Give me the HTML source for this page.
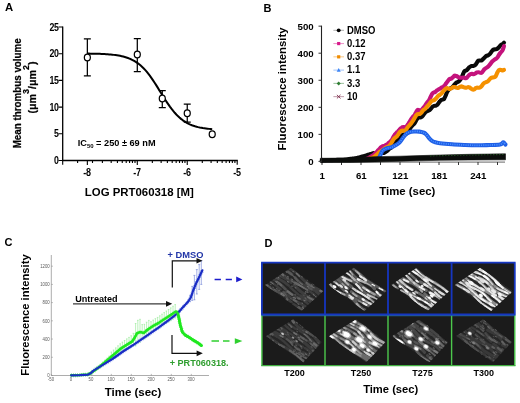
<!DOCTYPE html>
<html lang="en"><head><meta charset="utf-8"><title>Figure</title>
<style>
html,body{margin:0;padding:0;background:#fff;}
body{width:520px;height:403px;overflow:hidden;font-family:"Liberation Sans",sans-serif;}
svg{display:block;filter:blur(0.3px);}
</style></head><body>
<svg width="520" height="403" viewBox="0 0 520 403" font-family="Liberation Sans, sans-serif">
<g id="panelA">
<text x="5" y="11.3" font-size="11.3" font-weight="bold" text-anchor="start" fill="#000" >A</text>
<path d="M62.7 26.4V160.5H237.8" fill="none" stroke="#000" stroke-width="1.3"/>
<path d="M58.5 160.50H62.7M58.5 133.80H62.7M58.5 107.10H62.7M58.5 80.40H62.7M58.5 53.70H62.7M58.5 27.00H62.7M62.7 160.5v4.3M77.6 160.5v2.6M92.5 160.5v2.4M87.35 160.5v4.6M102.39 160.5v2.6M111.18 160.5v2.6M117.42 160.5v2.6M122.26 160.5v2.6M126.22 160.5v2.6M129.56 160.5v2.6M132.46 160.5v2.6M135.01 160.5v2.6M137.30 160.5v4.6M152.34 160.5v2.6M161.13 160.5v2.6M167.37 160.5v2.6M172.21 160.5v2.6M176.17 160.5v2.6M179.51 160.5v2.6M182.41 160.5v2.6M184.96 160.5v2.6M187.25 160.5v4.6M202.29 160.5v2.6M211.08 160.5v2.6M217.32 160.5v2.6M222.16 160.5v2.6M226.12 160.5v2.6M229.46 160.5v2.6M232.36 160.5v2.6M234.91 160.5v2.6M237.20 160.5v4.3" fill="none" stroke="#000" stroke-width="1.1"/>
<text transform="translate(58.5,164.0) scale(0.88,1)" font-size="10" font-weight="bold" text-anchor="end" fill="#000" letter-spacing="-0.4">0</text>
<text transform="translate(58.5,137.3) scale(0.88,1)" font-size="10" font-weight="bold" text-anchor="end" fill="#000" letter-spacing="-0.4">5</text>
<text transform="translate(58.5,110.6) scale(0.88,1)" font-size="10" font-weight="bold" text-anchor="end" fill="#000" letter-spacing="-0.4">10</text>
<text transform="translate(58.5,83.9) scale(0.88,1)" font-size="10" font-weight="bold" text-anchor="end" fill="#000" letter-spacing="-0.4">15</text>
<text transform="translate(58.5,57.2) scale(0.88,1)" font-size="10" font-weight="bold" text-anchor="end" fill="#000" letter-spacing="-0.4">20</text>
<text transform="translate(58.5,30.5) scale(0.88,1)" font-size="10" font-weight="bold" text-anchor="end" fill="#000" letter-spacing="-0.4">25</text>
<text transform="translate(87.05,176.1) scale(0.9,1)" font-size="10" font-weight="bold" text-anchor="middle" fill="#000" letter-spacing="-0.3">-8</text>
<text transform="translate(137.0,176.1) scale(0.9,1)" font-size="10" font-weight="bold" text-anchor="middle" fill="#000" letter-spacing="-0.3">-7</text>
<text transform="translate(186.95,176.1) scale(0.9,1)" font-size="10" font-weight="bold" text-anchor="middle" fill="#000" letter-spacing="-0.3">-6</text>
<text transform="translate(236.9,176.1) scale(0.9,1)" font-size="10" font-weight="bold" text-anchor="middle" fill="#000" letter-spacing="-0.3">-5</text>
<path d="M87.35 53.59 L88.91 53.61 L90.47 53.63 L92.03 53.66 L93.59 53.69 L95.15 53.73 L96.72 53.77 L98.28 53.82 L99.84 53.87 L101.40 53.94 L102.96 54.01 L104.52 54.09 L106.08 54.18 L107.64 54.29 L109.20 54.40 L110.76 54.54 L112.32 54.70 L113.89 54.87 L115.45 55.07 L117.01 55.30 L118.57 55.56 L120.13 55.85 L121.69 56.18 L123.25 56.56 L124.81 56.98 L126.37 57.46 L127.93 58.00 L129.50 58.61 L131.06 59.29 L132.62 60.05 L134.18 60.90 L135.74 61.85 L137.30 62.90 L138.86 64.06 L140.42 65.33 L141.98 66.74 L143.54 68.26 L145.10 69.92 L146.67 71.71 L148.23 73.62 L149.79 75.66 L151.35 77.82 L152.91 80.09 L154.47 82.44 L156.03 84.88 L157.59 87.37 L159.15 89.90 L160.71 92.45 L162.28 94.99 L163.84 97.51 L165.40 99.97 L166.96 102.36 L168.52 104.67 L170.08 106.88 L171.64 108.97 L173.20 110.94 L174.76 112.79 L176.32 114.50 L177.88 116.08 L179.45 117.54 L181.01 118.87 L182.57 120.08 L184.13 121.18 L185.69 122.17 L187.25 123.06 L188.81 123.86 L190.37 124.58 L191.93 125.22 L193.49 125.78 L195.05 126.29 L196.62 126.74 L198.18 127.13 L199.74 127.48 L201.30 127.79 L202.86 128.07 L204.42 128.31 L205.98 128.52 L207.54 128.71 L209.10 128.87 L210.66 129.01 L212.22 129.14" fill="none" stroke="#000" stroke-width="2" stroke-linejoin="round"/>
<path d="M87.35 38.8V75.8M83.85 38.8h7M83.85 75.8h7" fill="none" stroke="#000" stroke-width="1.25"/>
<ellipse cx="87.35" cy="57.4" rx="3.0" ry="3.4" fill="#fff" stroke="#000" stroke-width="1.25"/>
<path d="M137.3 38.5V71.6M133.80 38.5h7M133.80 71.6h7" fill="none" stroke="#000" stroke-width="1.25"/>
<ellipse cx="137.30" cy="54.6" rx="3.0" ry="3.4" fill="#fff" stroke="#000" stroke-width="1.25"/>
<path d="M162.275 90.5V107.5M158.78 90.5h7M158.78 107.5h7" fill="none" stroke="#000" stroke-width="1.25"/>
<ellipse cx="162.28" cy="98.5" rx="3.0" ry="3.4" fill="#fff" stroke="#000" stroke-width="1.25"/>
<path d="M187.25 104V122M183.75 104h7M183.75 122h7" fill="none" stroke="#000" stroke-width="1.25"/>
<ellipse cx="187.25" cy="113.3" rx="3.0" ry="3.4" fill="#fff" stroke="#000" stroke-width="1.25"/>
<ellipse cx="212.22" cy="134.2" rx="3.0" ry="3.4" fill="#fff" stroke="#000" stroke-width="1.25"/>
<text transform="translate(21.3,93.3) rotate(-90) scale(0.893,1)" font-size="11" font-weight="bold" text-anchor="middle" fill="#000" stroke="#000" stroke-width="0.25">Mean thrombus volume</text>
<text transform="translate(35.8,87.5) rotate(-90) scale(1.04,1)" font-size="10.3" font-weight="bold" text-anchor="middle" fill="#000" stroke="#000" stroke-width="0.2">(&#956;m<tspan dy="-6.4" font-size="8.6">3</tspan><tspan dy="6.4">/&#956;m</tspan><tspan dy="-6.4" font-size="8.6">2</tspan><tspan dy="6.4">)</tspan></text>
<text x="139.3" y="195.5" font-size="11.4" font-weight="bold" text-anchor="middle" fill="#000" >LOG PRT060318 [M]</text>
<text x="77.7" y="145.8" font-size="9.2" font-weight="bold" text-anchor="start" fill="#000" >IC<tspan dy="2" font-size="6">50</tspan><tspan dy="-2"> = 250 &#177; 69 nM</tspan></text>
</g>
<g id="panelB">
<text x="263.5" y="12.2" font-size="11" font-weight="bold" text-anchor="start" fill="#000" >B</text>
<path d="M322.0 160.5C322.3 160.5 323.0 160.5 323.5 160.4C324.0 160.4 324.6 160.4 325.1 160.4C325.6 160.4 326.1 160.3 326.6 160.3C327.1 160.3 327.6 160.3 328.1 160.3C328.6 160.2 329.2 160.2 329.7 160.2C330.2 160.2 330.7 160.2 331.2 160.1C331.7 160.1 332.2 160.1 332.7 160.1C333.2 160.1 333.8 160.0 334.3 160.0C334.8 160.0 335.3 160.0 335.8 160.0C336.3 159.9 336.8 159.9 337.3 159.9C337.8 159.9 338.4 159.9 338.9 159.8C339.4 159.8 339.9 159.8 340.4 159.8C340.9 159.8 341.4 159.7 341.9 159.7C342.4 159.7 343.0 159.7 343.5 159.7C344.0 159.6 344.5 159.6 345.0 159.6C345.5 159.6 346.0 159.5 346.5 159.4C347.0 159.3 347.5 159.3 348.0 159.2C348.5 159.1 349.0 159.1 349.5 159.0C350.0 158.9 350.5 158.9 351.0 158.8C351.5 158.7 352.0 158.7 352.5 158.6C353.0 158.5 353.5 158.5 354.0 158.4C354.5 158.3 355.0 158.3 355.5 158.2C356.0 158.1 356.5 158.1 357.0 158.0C357.5 157.9 358.0 157.7 358.5 157.6C359.0 157.4 359.5 157.3 360.0 157.2C360.5 157.0 361.0 156.9 361.5 156.8C362.0 156.6 362.5 156.5 363.0 156.3C363.5 156.2 364.0 156.1 364.5 155.9C365.0 155.8 365.5 155.6 366.0 155.5C366.5 155.4 366.9 155.2 367.4 155.0C367.9 154.9 368.3 154.7 368.8 154.6C369.3 154.4 369.7 154.3 370.2 154.1C370.7 154.0 371.1 153.8 371.6 153.7C372.1 153.5 372.5 153.3 373.0 153.2C373.5 153.1 374.0 153.2 374.5 153.3C375.0 153.3 375.5 153.3 376.0 153.4C376.5 153.4 377.0 153.5 377.5 153.5C378.0 153.5 378.5 153.6 379.0 153.5C379.5 153.4 380.1 153.0 380.7 152.9C381.2 152.8 381.8 152.8 382.3 152.8C382.9 152.8 383.4 153.0 384.0 152.9C384.6 152.8 385.2 152.3 385.8 151.9C386.4 151.5 387.1 151.0 387.6 150.5C388.2 150.0 388.6 149.3 389.1 148.9C389.6 148.5 390.1 148.4 390.6 148.1C391.1 147.7 391.6 147.4 392.1 146.8C392.6 146.2 393.1 145.4 393.6 144.6C394.1 143.8 394.6 142.8 395.1 142.0C395.6 141.3 396.1 140.8 396.6 140.3C397.0 139.9 397.5 139.7 398.0 139.3C398.5 138.9 399.0 138.4 399.5 137.9C400.0 137.4 400.5 137.0 401.0 136.5C401.5 136.1 402.0 135.4 402.5 135.0C403.0 134.6 403.5 134.4 404.0 134.3C404.5 134.2 405.0 134.4 405.5 134.3C406.0 134.1 406.4 133.8 406.8 133.4C407.2 133.0 407.7 132.4 408.1 131.8C408.5 131.2 408.9 130.7 409.4 129.8C409.9 129.0 410.6 127.6 411.2 126.7C411.8 125.9 412.5 125.3 413.0 124.8C413.5 124.2 414.0 124.0 414.5 123.4C415.0 122.7 415.4 121.8 415.9 121.0C416.4 120.2 416.9 119.0 417.4 118.4C417.9 117.8 418.3 117.7 418.7 117.5C419.1 117.4 419.6 117.4 420.0 117.3C420.4 117.3 420.8 117.5 421.3 117.1C421.8 116.8 422.5 116.0 423.1 115.3C423.7 114.6 424.3 113.5 424.9 112.8C425.5 112.2 425.9 111.8 426.4 111.4C427.0 111.1 427.5 111.0 428.0 110.8C428.5 110.6 429.0 110.5 429.4 110.2C429.9 109.9 430.4 109.3 430.9 108.7C431.3 108.2 431.8 107.4 432.3 107.0C432.8 106.5 433.5 106.1 434.1 105.9C434.8 105.7 435.5 105.9 436.0 105.7C436.5 105.5 436.8 105.2 437.3 104.8C437.7 104.4 438.1 103.7 438.5 103.2C439.0 102.6 439.3 102.0 439.8 101.5C440.3 100.9 440.8 100.4 441.3 100.1C441.8 99.7 442.2 99.7 442.7 99.5C443.2 99.2 443.7 99.4 444.2 98.7C444.7 98.0 445.2 96.6 445.7 95.5C446.2 94.3 446.7 92.8 447.2 91.8C447.7 90.8 448.3 90.2 448.9 89.6C449.4 89.0 450.0 88.6 450.5 88.3C451.0 88.0 451.4 88.0 451.9 87.7C452.3 87.3 452.8 86.8 453.2 86.2C453.7 85.7 454.1 85.0 454.6 84.4C455.1 83.9 455.6 83.2 456.1 82.8C456.6 82.3 457.1 82.2 457.6 82.0C458.1 81.7 458.6 81.5 459.1 81.1C459.6 80.6 460.1 79.9 460.6 79.2C461.0 78.5 461.6 77.7 462.0 76.8C462.4 75.9 462.8 74.6 463.2 73.7C463.7 72.7 464.0 71.7 464.5 71.2C465.0 70.7 465.7 70.9 466.2 70.5C466.8 70.1 467.5 69.2 468.0 68.7C468.5 68.2 468.9 67.7 469.3 67.3C469.8 66.9 470.2 66.5 470.7 66.3C471.1 66.1 471.6 66.1 472.0 66.0C472.4 66.0 472.9 66.1 473.3 66.0C473.8 65.9 474.2 65.8 474.7 65.4C475.1 65.1 475.6 64.7 476.0 64.1C476.4 63.6 476.8 62.7 477.2 62.1C477.7 61.5 478.0 60.9 478.5 60.6C479.0 60.4 479.6 60.6 480.1 60.5C480.7 60.5 481.2 60.6 481.8 60.3C482.4 60.0 483.0 59.1 483.6 58.5C484.3 57.9 485.0 57.1 485.5 56.6C486.0 56.1 486.3 56.0 486.8 55.7C487.2 55.5 487.6 55.5 488.0 55.3C488.5 55.1 488.8 54.9 489.3 54.5C489.8 54.1 490.4 53.3 490.9 52.6C491.4 51.9 492.0 50.9 492.5 50.4C493.0 49.9 493.5 49.7 494.0 49.5C494.5 49.3 495.0 49.4 495.5 49.3C496.0 49.2 496.7 49.2 497.2 48.8C497.8 48.5 498.5 47.7 499.0 47.2C499.5 46.6 499.8 46.0 500.2 45.6C500.7 45.2 501.1 44.9 501.5 44.7C501.9 44.4 502.3 44.4 502.8 44.0C503.2 43.7 503.8 42.8 504.0 42.6" fill="none" stroke="#0a0a0a" stroke-width="4.1" stroke-linejoin="round" stroke-linecap="round"/>
<path d="M364.0 159.9C364.2 159.8 364.9 159.5 365.3 159.4C365.8 159.2 366.2 159.0 366.7 158.8C367.1 158.7 367.5 158.5 368.0 158.3C368.5 158.1 368.9 157.7 369.4 157.4C369.9 157.1 370.4 156.8 370.9 156.6C371.3 156.3 371.8 156.0 372.3 155.7C372.8 155.4 373.2 155.2 373.7 154.8C374.2 154.4 374.7 153.8 375.2 153.3C375.7 152.8 376.2 152.4 376.7 151.9C377.2 151.4 377.7 150.8 378.2 150.3C378.7 149.7 379.2 149.1 379.7 148.6C380.2 148.1 380.7 147.6 381.2 147.2C381.7 146.8 382.2 146.3 382.7 146.1C383.2 145.9 383.8 146.1 384.3 145.9C384.9 145.7 385.4 145.2 386.0 144.9C386.5 144.6 387.1 144.4 387.6 144.0C388.1 143.6 388.6 143.0 389.1 142.5C389.6 142.1 390.1 141.9 390.6 141.3C391.1 140.8 391.6 140.1 392.1 139.4C392.6 138.6 393.1 137.5 393.6 136.6C394.1 135.8 394.6 134.9 395.1 134.2C395.6 133.6 396.1 133.2 396.6 132.7C397.0 132.3 397.5 132.1 398.0 131.5C398.5 131.0 399.0 130.1 399.5 129.6C400.0 129.0 400.5 128.6 401.0 128.2C401.5 127.9 402.0 127.4 402.5 127.2C403.0 127.0 403.5 127.1 404.0 127.1C404.5 127.1 405.0 127.5 405.5 127.4C406.0 127.2 406.4 126.6 406.8 126.1C407.2 125.6 407.7 124.8 408.1 124.2C408.5 123.5 408.9 123.0 409.4 122.2C409.9 121.4 410.6 120.1 411.2 119.2C411.8 118.3 412.5 117.5 413.0 116.9C413.5 116.2 414.0 115.8 414.5 115.1C415.0 114.3 415.4 113.3 415.9 112.5C416.4 111.6 416.9 110.5 417.4 110.1C417.9 109.7 418.3 110.0 418.7 110.0C419.1 110.0 419.6 110.3 420.0 110.3C420.4 110.4 420.8 110.7 421.3 110.3C421.8 109.9 422.5 108.9 423.1 108.1C423.7 107.4 424.4 106.6 424.9 105.9C425.4 105.2 425.7 104.5 426.1 104.0C426.5 103.4 426.8 103.0 427.3 102.4C427.8 101.8 428.4 101.2 429.0 100.3C429.5 99.3 430.1 98.1 430.6 96.9C431.2 95.8 431.8 94.4 432.3 93.6C432.8 92.9 433.3 92.8 433.9 92.5C434.4 92.2 434.9 92.2 435.4 91.8C436.0 91.5 436.5 90.8 437.0 90.4C437.5 90.0 437.9 89.8 438.4 89.5C438.9 89.2 439.3 89.1 439.8 88.8C440.3 88.5 441.0 87.9 441.6 87.6C442.2 87.2 442.9 87.0 443.4 86.7C443.9 86.3 444.2 85.9 444.7 85.4C445.1 84.9 445.5 84.1 445.9 83.6C446.4 83.0 446.8 82.5 447.2 81.9C447.6 81.4 448.0 80.7 448.4 80.2C448.8 79.7 449.1 79.2 449.6 78.9C450.1 78.7 450.7 79.0 451.3 78.7C451.8 78.4 452.4 77.8 452.9 77.3C453.5 76.8 454.0 76.0 454.6 75.7C455.2 75.5 455.7 75.8 456.3 76.0C456.9 76.2 457.5 76.6 458.0 76.9C458.5 77.1 458.9 77.5 459.3 77.6C459.8 77.8 460.2 77.7 460.7 77.7C461.1 77.7 461.6 77.8 462.0 77.8C462.4 77.7 462.9 77.5 463.3 77.6C463.8 77.6 464.2 77.8 464.7 78.0C465.1 78.1 465.5 78.4 466.0 78.2C466.5 78.0 467.0 77.4 467.5 76.9C468.0 76.4 468.5 75.7 469.0 75.2C469.5 74.7 470.0 74.3 470.5 74.1C471.0 73.9 471.5 73.8 472.0 73.9C472.5 73.9 473.1 74.3 473.7 74.2C474.2 74.2 474.8 73.8 475.3 73.5C475.9 73.1 476.5 72.6 477.0 72.4C477.5 72.2 478.1 72.2 478.6 72.2C479.1 72.3 479.7 72.7 480.2 72.8C480.7 72.8 481.3 73.0 481.8 72.6C482.3 72.3 482.7 71.4 483.2 70.8C483.7 70.2 484.1 69.5 484.6 69.0C485.1 68.5 485.5 68.4 486.0 68.0C486.5 67.7 487.1 67.5 487.6 67.0C488.2 66.6 488.8 66.0 489.3 65.3C489.8 64.7 490.4 63.9 490.9 63.2C491.4 62.5 492.0 61.8 492.5 61.3C493.0 60.8 493.5 60.4 494.0 60.0C494.5 59.6 495.0 59.4 495.5 59.1C496.0 58.7 496.3 58.6 496.8 58.1C497.2 57.7 497.6 57.2 498.0 56.6C498.4 56.0 498.8 55.1 499.2 54.5C499.6 53.9 499.8 53.6 500.4 52.9C500.9 52.2 501.9 51.5 502.5 50.3C503.1 49.2 503.8 46.7 504.0 46.0" fill="none" stroke="#c4127c" stroke-width="4.1" stroke-linejoin="round" stroke-linecap="round"/>
<path d="M369.0 158.8C369.3 158.7 370.1 158.4 370.7 158.2C371.2 158.0 371.8 157.8 372.3 157.6C372.9 157.4 373.5 157.3 374.0 157.0C374.5 156.7 374.9 156.2 375.4 155.8C375.9 155.4 376.4 155.0 376.9 154.5C377.3 154.1 377.8 153.6 378.3 153.1C378.8 152.7 379.3 152.2 379.7 151.8C380.1 151.5 380.5 151.3 381.0 151.1C381.4 150.8 381.8 150.6 382.2 150.3C382.7 150.0 383.1 149.6 383.5 149.3C383.9 148.9 384.4 148.6 384.9 148.3C385.3 148.0 385.8 147.6 386.2 147.3C386.7 147.1 387.1 147.2 387.6 147.0C388.1 146.8 388.6 146.4 389.1 145.9C389.6 145.5 390.1 145.0 390.6 144.3C391.1 143.6 391.6 142.6 392.1 141.7C392.6 140.9 393.1 140.0 393.6 139.3C394.1 138.6 394.6 138.2 395.1 137.7C395.6 137.3 396.1 137.1 396.6 136.6C397.0 136.1 397.5 135.6 398.0 134.9C398.5 134.2 399.0 132.9 399.5 132.3C400.0 131.6 400.5 131.3 401.0 131.0C401.5 130.7 402.0 130.6 402.5 130.6C403.0 130.6 403.5 130.8 404.0 130.8C404.5 130.7 405.0 130.7 405.5 130.4C406.0 130.0 406.4 129.2 406.8 128.6C407.2 127.9 407.7 127.2 408.1 126.7C408.5 126.1 408.9 125.9 409.4 125.4C409.9 124.8 410.6 124.1 411.2 123.3C411.8 122.5 412.5 121.5 413.0 120.7C413.5 119.8 414.0 119.0 414.5 118.2C415.0 117.4 415.4 116.4 415.9 115.7C416.4 115.1 416.9 114.4 417.4 114.2C417.9 113.9 418.3 114.2 418.7 114.1C419.1 114.0 419.6 114.0 420.0 113.8C420.4 113.5 420.8 113.2 421.3 112.7C421.8 112.1 422.5 110.9 423.1 110.3C423.7 109.7 424.4 109.4 424.9 109.0C425.4 108.5 425.7 108.2 426.1 107.7C426.5 107.3 426.8 106.8 427.3 106.3C427.8 105.7 428.4 105.1 429.0 104.4C429.5 103.7 430.1 102.7 430.6 102.1C431.2 101.5 431.7 101.0 432.3 100.7C432.9 100.4 433.5 100.5 434.1 100.1C434.8 99.7 435.5 99.0 436.0 98.5C436.5 98.0 436.8 97.4 437.3 96.9C437.7 96.4 438.1 95.9 438.5 95.5C439.0 95.2 439.3 95.2 439.8 94.8C440.3 94.5 441.0 94.0 441.6 93.4C442.2 92.7 442.9 91.6 443.4 91.0C443.9 90.4 444.2 90.2 444.7 89.7C445.1 89.3 445.5 88.9 445.9 88.6C446.4 88.3 446.7 88.1 447.2 88.1C447.7 88.1 448.2 88.5 448.7 88.7C449.2 88.8 449.7 88.9 450.2 88.8C450.8 88.7 451.3 88.3 451.8 88.0C452.3 87.7 452.8 87.2 453.3 87.1C453.8 86.9 454.2 87.0 454.7 87.1C455.2 87.2 455.7 87.5 456.1 87.7C456.6 87.9 457.1 88.1 457.6 88.0C458.1 88.0 458.5 87.7 459.0 87.5C459.5 87.2 459.9 86.8 460.4 86.7C460.8 86.5 461.3 86.4 461.8 86.4C462.2 86.5 462.7 86.8 463.1 87.0C463.6 87.2 464.0 87.5 464.5 87.6C465.0 87.7 465.6 87.8 466.2 87.8C466.7 87.7 467.3 87.3 467.8 87.2C468.4 87.1 468.9 87.2 469.5 87.4C470.1 87.7 470.6 88.3 471.1 88.7C471.7 89.0 472.2 89.4 472.8 89.6C473.3 89.7 473.9 89.6 474.4 89.3C474.9 89.1 475.3 88.4 475.8 88.1C476.2 87.8 476.7 87.7 477.1 87.6C477.6 87.6 478.0 87.8 478.5 87.8C479.0 87.7 479.6 87.7 480.1 87.4C480.7 87.1 481.3 86.5 481.8 85.9C482.3 85.3 482.7 84.5 483.2 83.9C483.7 83.4 484.1 83.0 484.6 82.7C485.1 82.4 485.5 82.4 486.0 82.2C486.5 82.0 487.1 81.9 487.6 81.5C488.2 81.1 488.8 80.3 489.3 79.7C489.8 79.1 490.4 78.4 490.9 78.0C491.4 77.7 492.0 77.5 492.5 77.4C493.0 77.3 493.5 77.4 494.0 77.3C494.5 77.1 494.9 77.4 495.5 76.6C496.1 75.7 496.9 73.3 497.5 72.2C498.1 71.1 498.7 70.3 499.2 69.9C499.7 69.6 500.0 69.9 500.4 69.9C500.7 70.0 501.1 70.0 501.5 70.1C501.9 70.2 502.3 70.5 502.8 70.5C503.2 70.5 503.8 70.0 504.0 69.9" fill="none" stroke="#f59100" stroke-width="4.1" stroke-linejoin="round" stroke-linecap="round"/>
<path d="M377.5 158.8C377.9 158.4 378.8 157.9 379.7 156.5C380.6 155.1 381.5 151.9 382.7 150.5C383.9 149.1 385.5 148.8 387.0 148.3C388.5 147.8 390.2 147.8 391.6 147.3C393.0 146.8 394.2 146.1 395.5 145.3C396.8 144.5 398.3 143.5 399.5 142.4C400.7 141.3 401.5 139.8 402.5 138.5C403.5 137.2 404.4 135.7 405.5 134.6C406.6 133.5 408.0 132.7 409.4 132.2C410.8 131.7 412.3 131.6 414.0 131.5C415.7 131.4 417.9 131.4 419.4 131.6C420.9 131.8 421.9 132.0 423.0 132.4C424.1 132.8 424.8 133.0 425.8 134.0C426.9 135.0 428.3 137.2 429.3 138.3C430.3 139.4 431.2 140.2 432.0 140.8C432.8 141.4 432.9 141.5 434.2 141.9C435.5 142.3 437.0 142.8 440.0 143.2C443.0 143.6 447.8 144.0 452.0 144.3C456.2 144.6 460.7 144.8 465.0 145.0C469.3 145.2 473.8 145.3 478.0 145.3C482.2 145.3 486.3 145.1 490.0 145.0C493.7 144.9 497.8 144.9 500.0 144.5C502.2 144.1 502.4 142.4 503.3 142.4C504.2 142.4 505.1 144.2 505.5 144.5" fill="none" stroke="#1f5fe6" stroke-width="4.1" stroke-linejoin="round" stroke-linecap="round"/>
<path d="M377.5 158.8C377.9 158.4 378.8 157.9 379.7 156.5C380.6 155.1 381.5 151.9 382.7 150.5C383.9 149.1 385.5 148.8 387.0 148.3C388.5 147.8 390.2 147.8 391.6 147.3C393.0 146.8 394.2 146.1 395.5 145.3C396.8 144.5 398.3 143.5 399.5 142.4C400.7 141.3 401.5 139.8 402.5 138.5C403.5 137.2 404.4 135.7 405.5 134.6C406.6 133.5 408.0 132.7 409.4 132.2C410.8 131.7 412.3 131.6 414.0 131.5C415.7 131.4 417.9 131.4 419.4 131.6C420.9 131.8 421.9 132.0 423.0 132.4C424.1 132.8 424.8 133.0 425.8 134.0C426.9 135.0 428.3 137.2 429.3 138.3C430.3 139.4 431.2 140.2 432.0 140.8C432.8 141.4 432.9 141.5 434.2 141.9C435.5 142.3 437.0 142.8 440.0 143.2C443.0 143.6 447.8 144.0 452.0 144.3C456.2 144.6 460.7 144.8 465.0 145.0C469.3 145.2 473.8 145.3 478.0 145.3C482.2 145.3 486.3 145.1 490.0 145.0C493.7 144.9 497.8 144.9 500.0 144.5C502.2 144.1 502.4 142.4 503.3 142.4C504.2 142.4 505.1 144.2 505.5 144.5" fill="none" stroke="#4a90ff" stroke-width="1.7" stroke-dasharray="1.1 1.1" stroke-linejoin="round"/>
<path d="M321.5 162.1H505" fill="none" stroke="#555" stroke-width="0.9"/>
<path d="M322.00 162v3M341.50 162v3M361.00 162v3M380.50 162v3M400.00 162v3M419.50 162v3M439.00 162v3M458.50 162v3M478.00 162v3M497.50 162v3" fill="none" stroke="#333" stroke-width="1"/>
<path d="M320.3 158.3L350 158L362 157.3L375 156.7L400 156.2L420 155.6L440 155L470 154.3L505.5 153.8L505.5 159.8L470 160L440 160.3L420 160.8L400 161.3L375 161.9L350 162.4L320.3 162.5z" fill="#0b0d0b" stroke="#0b0d0b" stroke-width="0.6" stroke-linejoin="round"/>
<path d="M319.6 160.4l2.4 -3l2.4 3l-2.4 3z" fill="#0b0d0b"/>
<path d="M430 155.9 L470 155 L505 154.5" fill="none" stroke="#1f4a1f" stroke-width="1.1" stroke-dasharray="1.5 1.5"/>
<path d="M321.5 25.650000000000006V162.5" fill="none" stroke="#222" stroke-width="1.1"/>
<path d="M318.5 161.40H321.5M318.5 134.35H321.5M318.5 107.30H321.5M318.5 80.25H321.5M318.5 53.20H321.5M318.5 26.15H321.5" fill="none" stroke="#333" stroke-width="1"/>
<text x="313.7" y="164.8" font-size="9.7" font-weight="bold" text-anchor="end" fill="#000" >0</text>
<text x="313.7" y="137.75" font-size="9.7" font-weight="bold" text-anchor="end" fill="#000" >100</text>
<text x="313.7" y="110.70000000000002" font-size="9.7" font-weight="bold" text-anchor="end" fill="#000" >200</text>
<text x="313.7" y="83.65" font-size="9.7" font-weight="bold" text-anchor="end" fill="#000" >300</text>
<text x="313.7" y="56.6" font-size="9.7" font-weight="bold" text-anchor="end" fill="#000" >400</text>
<text x="313.7" y="29.550000000000004" font-size="9.7" font-weight="bold" text-anchor="end" fill="#000" >500</text>
<text x="322.3" y="179" font-size="9.7" font-weight="bold" text-anchor="middle" fill="#000" >1</text>
<text x="361.3" y="179" font-size="9.7" font-weight="bold" text-anchor="middle" fill="#000" >61</text>
<text x="400.3" y="179" font-size="9.7" font-weight="bold" text-anchor="middle" fill="#000" >121</text>
<text x="439.3" y="179" font-size="9.7" font-weight="bold" text-anchor="middle" fill="#000" >181</text>
<text x="478.3" y="179" font-size="9.7" font-weight="bold" text-anchor="middle" fill="#000" >241</text>
<text transform="translate(286,89) rotate(-90) scale(1,1)" font-size="11.35" font-weight="bold" text-anchor="middle" fill="#000" >Fluorescence intensity</text>
<text x="407.3" y="194.8" font-size="11.4" font-weight="bold" text-anchor="middle" fill="#000" >Time (sec)</text>
<path d="M333.4 30.3H344" stroke="#555" stroke-width="0.8" stroke-opacity="0.6" fill="none"/>
<circle cx="338.7" cy="30.3" r="1.9" fill="#000"/>
<text transform="translate(347,33.5) scale(0.95,1)" font-size="10" font-weight="bold" text-anchor="start" fill="#000" >DMSO</text>
<path d="M333.4 43.57H344" stroke="#d81b8c" stroke-width="0.8" stroke-opacity="0.6" fill="none"/>
<rect x="337.09999999999997" y="41.97" width="3.2" height="3.2" fill="#d81b8c"/>
<text transform="translate(347,46.77) scale(0.95,1)" font-size="10" font-weight="bold" text-anchor="start" fill="#000" >0.12</text>
<path d="M333.4 56.84H344" stroke="#f08c00" stroke-width="0.8" stroke-opacity="0.6" fill="none"/>
<rect x="337.09999999999997" y="55.24" width="3.2" height="3.2" fill="#f08c00"/>
<text transform="translate(347,60.04) scale(0.95,1)" font-size="10" font-weight="bold" text-anchor="start" fill="#000" >0.37</text>
<path d="M333.4 70.11H344" stroke="#3d85f5" stroke-width="0.8" stroke-opacity="0.6" fill="none"/>
<path d="M338.7 68.11l2 3.6h-4z" fill="#3d85f5"/>
<text transform="translate(347,73.31) scale(0.95,1)" font-size="10" font-weight="bold" text-anchor="start" fill="#000" >1.1</text>
<path d="M333.4 83.38H344" stroke="#2e7d32" stroke-width="0.8" stroke-opacity="0.6" fill="none"/>
<path d="M338.7 81.38l2 2l-2 2l-2 -2z" fill="#2e7d32"/>
<text transform="translate(347,86.58) scale(0.95,1)" font-size="10" font-weight="bold" text-anchor="start" fill="#000" >3.3</text>
<path d="M333.4 96.65H344" stroke="#7a2a4a" stroke-width="0.8" stroke-opacity="0.6" fill="none"/>
<path d="M336.9 94.85000000000001l3.6 3.6m0 -3.6l-3.6 3.6" stroke="#7a2a4a" stroke-width="0.9" fill="none"/>
<text transform="translate(347,99.85) scale(0.95,1)" font-size="10" font-weight="bold" text-anchor="start" fill="#000" >10</text>
</g>
<g id="panelC">
<text x="4.5" y="245.5" font-size="11" font-weight="bold" text-anchor="start" fill="#000" >C</text>
<path d="M51.3 255V375.5H209" fill="none" stroke="#8a8a8a" stroke-width="0.7"/>
<path d="M51.3 375.50h1.6M51.3 357.28h1.6M51.3 339.06h1.6M51.3 320.84h1.6M51.3 302.62h1.6M51.3 284.40h1.6M51.3 266.18h1.6M51.30 375.5v-1.6M71.30 375.5v-1.6M91.30 375.5v-1.6M111.30 375.5v-1.6M131.30 375.5v-1.6M151.30 375.5v-1.6M171.30 375.5v-1.6M191.30 375.5v-1.6" fill="none" stroke="#8a8a8a" stroke-width="0.6"/>
<text transform="translate(49.699999999999996,377.2) scale(0.86,1)" font-size="5" font-weight="normal" text-anchor="end" fill="#5a5a5a" >0</text>
<text transform="translate(49.699999999999996,358.98) scale(0.86,1)" font-size="5" font-weight="normal" text-anchor="end" fill="#5a5a5a" >200</text>
<text transform="translate(49.699999999999996,340.76) scale(0.86,1)" font-size="5" font-weight="normal" text-anchor="end" fill="#5a5a5a" >400</text>
<text transform="translate(49.699999999999996,322.54) scale(0.86,1)" font-size="5" font-weight="normal" text-anchor="end" fill="#5a5a5a" >600</text>
<text transform="translate(49.699999999999996,304.32) scale(0.86,1)" font-size="5" font-weight="normal" text-anchor="end" fill="#5a5a5a" >800</text>
<text transform="translate(49.699999999999996,286.1) scale(0.86,1)" font-size="5" font-weight="normal" text-anchor="end" fill="#5a5a5a" >1000</text>
<text transform="translate(49.699999999999996,267.88) scale(0.86,1)" font-size="5" font-weight="normal" text-anchor="end" fill="#5a5a5a" >1200</text>
<text transform="translate(51.0,381.1) scale(0.86,1)" font-size="5" font-weight="normal" text-anchor="middle" fill="#5a5a5a" >-50</text>
<text transform="translate(71.0,381.1) scale(0.86,1)" font-size="5" font-weight="normal" text-anchor="middle" fill="#5a5a5a" >0</text>
<text transform="translate(91.0,381.1) scale(0.86,1)" font-size="5" font-weight="normal" text-anchor="middle" fill="#5a5a5a" >50</text>
<text transform="translate(111.0,381.1) scale(0.86,1)" font-size="5" font-weight="normal" text-anchor="middle" fill="#5a5a5a" >100</text>
<text transform="translate(131.0,381.1) scale(0.86,1)" font-size="5" font-weight="normal" text-anchor="middle" fill="#5a5a5a" >150</text>
<text transform="translate(151.0,381.1) scale(0.86,1)" font-size="5" font-weight="normal" text-anchor="middle" fill="#5a5a5a" >200</text>
<text transform="translate(171.0,381.1) scale(0.86,1)" font-size="5" font-weight="normal" text-anchor="middle" fill="#5a5a5a" >250</text>
<text transform="translate(191.0,381.1) scale(0.86,1)" font-size="5" font-weight="normal" text-anchor="middle" fill="#5a5a5a" >300</text>
<path d="M96.0 370.6V367.9m-0.8 0h1.6M95.2 370.6h1.6M98.2 369.1V366.1m-0.8 0h1.6M97.4 369.1h1.6M100.4 367.6V364.3m-0.8 0h1.6M99.6 367.6h1.6M102.6 365.8V362.3m-0.8 0h1.6M101.8 365.8h1.6M104.8 364.1V360.2m-0.8 0h1.6M104.0 364.1h1.6M107.0 362.3V358.2m-0.8 0h1.6M106.2 362.3h1.6M109.2 360.6V356.1m-0.8 0h1.6M108.4 360.6h1.6M111.4 360.4V352.0m-0.8 0h1.6M110.6 360.4h1.6M113.6 358.6V350.0m-0.8 0h1.6M112.8 358.6h1.6M115.8 356.8V347.9m-0.8 0h1.6M115.0 356.8h1.6M118.0 355.1V345.8m-0.8 0h1.6M117.2 355.1h1.6M120.2 353.3V343.8m-0.8 0h1.6M119.4 353.3h1.6M122.4 352.0V342.1m-0.8 0h1.6M121.6 352.0h1.6M124.6 350.7V340.5m-0.8 0h1.6M123.8 350.7h1.6M126.8 349.4V338.9m-0.8 0h1.6M126.0 349.4h1.6M129.0 348.1V337.4m-0.8 0h1.6M128.2 348.1h1.6M131.2 346.9V335.8m-0.8 0h1.6M130.4 346.9h1.6M133.4 344.7V333.3m-0.8 0h1.6M132.6 344.7h1.6M135.6 345.9V323.5m-0.8 0h1.6M134.8 345.9h1.6M137.8 343.0V320.3m-0.8 0h1.6M137.0 343.0h1.6M140.0 342.3V319.3m-0.8 0h1.6M139.2 342.3h1.6M142.2 338.9V324.6m-0.8 0h1.6M141.4 338.9h1.6M144.4 339.0V324.3m-0.8 0h1.6M143.6 339.0h1.6M146.6 337.2V322.2m-0.8 0h1.6M145.8 337.2h1.6M148.8 335.6V320.4m-0.8 0h1.6M148.0 335.6h1.6M151.0 331.8V321.7m-0.8 0h1.6M150.2 331.8h1.6M153.2 330.6V320.1m-0.8 0h1.6M152.4 330.6h1.6M155.4 329.4V318.7m-0.8 0h1.6M154.6 329.4h1.6M157.6 328.4V317.4m-0.8 0h1.6M156.8 328.4h1.6M159.8 327.2V315.8m-0.8 0h1.6M159.0 327.2h1.6M162.0 325.8V314.2m-0.8 0h1.6M161.2 325.8h1.6M164.2 324.5V312.6m-0.8 0h1.6M163.4 324.5h1.6M166.4 323.3V311.0m-0.8 0h1.6M165.6 323.3h1.6M168.6 322.0V309.5m-0.8 0h1.6M167.8 322.0h1.6M170.8 320.7V307.9m-0.8 0h1.6M170.0 320.7h1.6M173.0 319.3V306.2m-0.8 0h1.6M172.2 319.3h1.6M175.2 318.0V304.6m-0.8 0h1.6M174.4 318.0h1.6" fill="none" stroke="#8ee88e" stroke-width="0.6"/>
<path d="M190 295.7V301.7M189 295.7h2M189 301.7h2M192.2 286.4V300.4M191.2 286.4h2M191.2 300.4h2M194.4 275.4V299.8M193.4 275.4h2M193.4 299.8h2M196.8 269.6V294.0M195.8 269.6h2M195.8 294.0h2M199.2 264.6V289.4M198.2 264.6h2M198.2 289.4h2M201.3 260.8V284.4M200.3 260.8h2M200.3 284.4h2" fill="none" stroke="#5a6fd0" stroke-width="0.55"/>
<path d="M71.2 375.4 L80.0 375.2 L88.0 374.6 L91.0 373.0 L93.5 370.6 L100.0 366.6 L112.3 359.0 L123.0 351.5 L133.8 344.6 L146.2 336.2 L158.5 327.7 L167.7 320.8 L173.0 316.8 L177.9 313.0 L182.7 307.6 L187.6 302.3 L190.8 297.5 L193.2 290.5 L196.5 282.4 L199.7 276.0 L202.4 270.3" fill="none" stroke="#8fa0f0" stroke-width="3.8" stroke-dasharray="0.8 1.2" stroke-linejoin="round"/>
<path d="M71.2 375.3 L80.0 375.0 L88.0 374.5 L91.0 373.0 L94.5 370.5 L100.2 366.3 L109.2 358.6 L120.0 349.2 L127.0 344.6 L132.3 341.3 L134.8 337.5 L137.0 333.2 L140.3 332.0 L143.8 333.0 L146.5 330.6 L149.2 328.5 L153.7 325.6 L158.5 323.0 L163.0 320.0 L167.7 317.0 L172.0 314.2 L174.6 312.3 L176.2 311.5 L177.5 312.8 L178.6 316.5 L180.3 325.0 L182.3 332.0 L185.0 335.0 L189.2 337.4 L193.0 340.0 L197.0 342.3 L201.5 345.6" fill="none" stroke="#9cf59c" stroke-width="4" stroke-dasharray="0.8 1.2" stroke-linejoin="round"/>
<path d="M71.2 375.3 L80.0 375.0 L88.0 374.5 L91.0 373.0 L94.5 370.5 L100.2 366.3 L109.2 358.6 L120.0 349.2 L127.0 344.6 L132.3 341.3 L134.8 337.5 L137.0 333.2 L140.3 332.0 L143.8 333.0 L146.5 330.6 L149.2 328.5 L153.7 325.6 L158.5 323.0 L163.0 320.0 L167.7 317.0 L172.0 314.2 L174.6 312.3 L176.2 311.5 L177.5 312.8 L178.6 316.5 L180.3 325.0 L182.3 332.0 L185.0 335.0 L189.2 337.4 L193.0 340.0 L197.0 342.3 L201.5 345.6" fill="none" stroke="#1fe81f" stroke-width="2.6" stroke-linejoin="round" stroke-linecap="round"/>
<path d="M71.2 375.4 L80.0 375.2 L88.0 374.6 L91.0 373.0 L93.5 370.6 L100.0 366.6 L112.3 359.0 L123.0 351.5 L133.8 344.6 L146.2 336.2 L158.5 327.7 L167.7 320.8 L173.0 316.8 L177.9 313.0 L182.7 307.6 L187.6 302.3 L190.8 297.5 L193.2 290.5 L196.5 282.4 L199.7 276.0 L202.4 270.3" fill="none" stroke="#1a2cc4" stroke-width="2.2" stroke-linejoin="round" stroke-linecap="round"/>
<path d="M177.5 312.8 L178.6 316.5 L180.3 325.0 L182.3 332.0 L185.0 335.0 L189.2 337.4 L193.0 340.0 L197.0 342.3 L201.5 345.6" fill="none" stroke="#1fe81f" stroke-width="2.6" stroke-linejoin="round" stroke-linecap="round"/>
<path d="M73 303.8H167" stroke="#3a3a3a" stroke-width="1.3" fill="none"/><path d="M172.2 303.8l-6.2 -2.9v5.8z" fill="#111"/>
<path d="M172.3 287.5V260.8H197" stroke="#111" stroke-width="1.2" fill="none"/><path d="M202.5 260.8l-6 -2.8v5.6z" fill="#111"/>
<path d="M172 335V353.3H197" stroke="#111" stroke-width="1.2" fill="none"/><path d="M202.8 353.3l-6.2 -2.9v5.8z" fill="#111"/>
<text x="75.2" y="301.8" font-size="9.1" font-weight="bold" text-anchor="start" fill="#000" >Untreated</text>
<text x="167.6" y="258.1" font-size="9.3" font-weight="bold" text-anchor="start" fill="#2236a8" >+ DMSO</text>
<text x="169.7" y="365.7" font-size="9.1" font-weight="bold" text-anchor="start" fill="#2f9e2f" >+ PRT060318.</text>
<path d="M214.6 279.4h6.3M225.7 279.4h6.2" stroke="#1c1ccc" stroke-width="1.5" fill="none"/><path d="M242.4 279.4l-6.2 -2.8v5.6z" fill="#1c1ccc"/>
<path d="M211.5 341.1h7.5M223 341.1h6.5" stroke="#2fd02f" stroke-width="1.5" fill="none"/><path d="M242.4 341.1l-7.6 -2.8v5.6z" fill="#2fd02f"/>
<text transform="translate(28.5,315) rotate(-90) scale(1,1)" font-size="11.2" font-weight="bold" text-anchor="middle" fill="#000" >Fluorescence intensity</text>
<text x="133" y="396.2" font-size="11.5" font-weight="bold" text-anchor="middle" fill="#000" >Time (sec)</text>
</g>
<g id="panelD">
<text x="264.5" y="246.6" font-size="11" font-weight="bold" text-anchor="start" fill="#000" >D</text>
<rect x="261.9" y="262.6" width="252.89999999999998" height="103.09999999999997" fill="#1b1b1b"/>
<defs><filter id="bl" x="-20%" y="-20%" width="140%" height="140%"><feGaussianBlur stdDeviation="0.6"/></filter></defs>
<clipPath id="cp00"><path d="M265.1 285.1L290.7 267.8L323.3 291.1L301.4 311.1z"/></clipPath>
<g filter="url(#bl)"><g clip-path="url(#cp00)" fill="none" stroke-linecap="round" stroke-linejoin="round">
<path d="M265.1 285.1L290.7 267.8L323.3 291.1L301.4 311.1z" fill="rgb(38,38,38)"/>
<path d="M265.1 283.6L267.8 286.1L271.0 288.3L274.7 290.2L278.5 291.9L282.1 293.8" stroke="rgb(61,61,61)" stroke-width="3.1"/>
<path d="M285.7 296.5L286.7 297.5L287.6 298.5L288.5 299.5L289.4 300.5L290.3 301.5" stroke="rgb(61,61,61)" stroke-width="2.8"/>
<path d="M293.6 304.7L296.2 306.4L299.1 307.9L302.1 309.2L304.4 310.1L304.7 309.9" stroke="rgb(61,61,61)" stroke-width="3.3"/>
<path d="M264.8 283.8L265.7 284.7L266.7 285.6L267.7 286.5" stroke="rgb(98,98,98)" stroke-width="1.9"/>
<path d="M268.2 286.9L268.7 287.2L269.2 287.6L269.7 287.9" stroke="rgb(87,87,87)" stroke-width="2.4"/>
<path d="M270.3 288.3L272.0 289.2L273.8 290.1L275.6 290.9" stroke="rgb(109,109,109)" stroke-width="1.2"/>
<path d="M276.3 291.2L277.9 291.9L279.4 292.7L280.9 293.4" stroke="rgb(76,76,76)" stroke-width="2.3"/>
<path d="M281.5 293.8L282.3 294.3L283.1 294.8L283.8 295.4" stroke="rgb(116,116,116)" stroke-width="2.3"/>
<path d="M297.7 307.6L299.7 308.5L301.7 309.4L303.7 310.3" stroke="rgb(91,91,91)" stroke-width="1.2"/>
<path d="M269.2 280.8L271.7 282.4L274.1 284.1L276.4 285.8L278.6 287.6L280.8 289.4" stroke="rgb(61,61,61)" stroke-width="2.2"/>
<path d="M283.5 291.8L285.1 293.2L286.8 294.6L288.5 295.9L290.3 297.2L292.1 298.5" stroke="rgb(61,61,61)" stroke-width="2.6"/>
<path d="M295.7 300.8L298.0 302.1L300.2 303.5L302.5 304.8L304.7 306.2L306.9 307.6" stroke="rgb(61,61,61)" stroke-width="2.6"/>
<path d="M268.9 281.1L270.4 282.0L271.8 282.9L273.3 283.9" stroke="rgb(116,116,116)" stroke-width="1.0"/>
<path d="M283.4 292.2L283.9 292.6L284.3 293.0L284.7 293.3" stroke="rgb(83,83,83)" stroke-width="2.4"/>
<path d="M293.5 299.8L294.5 300.4L295.5 301.0L296.5 301.6" stroke="rgb(97,97,97)" stroke-width="2.2"/>
<path d="M272.3 278.8L275.7 280.7L278.7 282.7L281.5 285.0L284.1 287.5L286.6 289.9" stroke="rgb(61,61,61)" stroke-width="2.6"/>
<path d="M290.0 292.8L292.2 294.3L294.6 295.8L297.1 297.1L299.7 298.4L302.1 299.7" stroke="rgb(61,61,61)" stroke-width="2.6"/>
<path d="M304.2 301.0L305.7 302.0L307.1 303.1L308.4 304.2L309.6 305.3L309.4 305.5" stroke="rgb(61,61,61)" stroke-width="2.3"/>
<path d="M277.0 281.9L277.7 282.4L278.4 282.9L279.1 283.4" stroke="rgb(116,116,116)" stroke-width="1.8"/>
<path d="M279.6 283.8L280.5 284.6L281.3 285.4L282.2 286.2" stroke="rgb(100,100,100)" stroke-width="2.2"/>
<path d="M282.7 286.6L283.6 287.5L284.4 288.4L285.3 289.2" stroke="rgb(78,78,78)" stroke-width="2.4"/>
<path d="M287.6 291.3L289.1 292.5L290.6 293.7L292.2 294.7" stroke="rgb(106,106,106)" stroke-width="2.4"/>
<path d="M297.7 297.8L298.4 298.1L299.1 298.5L299.8 298.8" stroke="rgb(82,82,82)" stroke-width="2.3"/>
<path d="M275.0 277.0L278.0 278.5L280.9 280.1L283.7 281.7L286.2 283.6L288.6 285.5" stroke="rgb(61,61,61)" stroke-width="2.8"/>
<path d="M290.2 287.1L291.8 288.6L293.4 290.2L295.0 291.7L296.7 293.2L298.6 294.6" stroke="rgb(61,61,61)" stroke-width="2.4"/>
<path d="M300.8 296.0L304.2 297.9L307.8 299.8L311.2 301.6L312.7 302.5L312.5 302.6" stroke="rgb(61,61,61)" stroke-width="3.4"/>
<path d="M274.7 277.2L275.9 277.9L277.2 278.5L278.5 279.2" stroke="rgb(80,80,80)" stroke-width="1.4"/>
<path d="M278.4 274.7L281.2 276.2L283.9 277.7L286.5 279.2L288.9 280.9L291.2 282.7" stroke="rgb(61,61,61)" stroke-width="2.8"/>
<path d="M294.1 285.3L296.1 287.2L298.2 289.2L300.3 291.1L302.4 292.9L304.8 294.6" stroke="rgb(61,61,61)" stroke-width="3.2"/>
<path d="M306.8 296.0L309.4 297.5L312.0 298.9L314.7 300.3L315.2 300.2L315.4 300.0" stroke="rgb(61,61,61)" stroke-width="3.1"/>
<path d="M307.8 297.0L309.3 297.8L310.8 298.7L312.4 299.5" stroke="rgb(108,108,108)" stroke-width="1.9"/>
<path d="M313.0 299.8L314.4 300.6L314.8 300.5L314.9 300.4" stroke="rgb(101,101,101)" stroke-width="2.2"/>
<path d="M281.1 272.9L282.3 274.0L283.5 275.0L284.8 276.0L286.1 277.0L287.4 277.9" stroke="rgb(61,61,61)" stroke-width="2.7"/>
<path d="M290.4 279.8L291.9 280.8L293.6 281.7L295.2 282.6L296.9 283.5L298.5 284.4" stroke="rgb(61,61,61)" stroke-width="3.0"/>
<path d="M301.6 286.0L302.8 286.7L304.0 287.4L305.2 288.1L306.3 288.9L307.5 289.6" stroke="rgb(61,61,61)" stroke-width="2.8"/>
<path d="M309.1 290.7L310.2 291.6L311.3 292.4L312.3 293.3L313.4 294.1L314.4 295.0" stroke="rgb(61,61,61)" stroke-width="2.4"/>
<path d="M316.1 296.5L317.3 297.7L317.5 298.1L317.3 298.3L317.1 298.4L317.0 298.5" stroke="rgb(61,61,61)" stroke-width="2.4"/>
<path d="M280.7 273.1L281.7 273.9L282.6 274.7L283.6 275.5" stroke="rgb(101,101,101)" stroke-width="1.9"/>
<path d="M286.8 277.9L287.2 278.2L287.7 278.5L288.2 278.8" stroke="rgb(87,87,87)" stroke-width="1.6"/>
<path d="M291.2 280.7L292.2 281.3L293.2 281.9L294.2 282.4" stroke="rgb(101,101,101)" stroke-width="1.1"/>
<path d="M294.8 282.7L296.1 283.4L297.4 284.1L298.6 284.8" stroke="rgb(100,100,100)" stroke-width="2.4"/>
<path d="M299.2 285.1L300.9 286.0L302.5 286.9L304.1 287.9" stroke="rgb(109,109,109)" stroke-width="2.0"/>
<path d="M304.6 288.2L305.6 288.8L306.5 289.4L307.5 290.0" stroke="rgb(100,100,100)" stroke-width="1.8"/>
<path d="M313.2 294.4L314.3 295.4L315.3 296.4L316.4 297.3" stroke="rgb(112,112,112)" stroke-width="1.0"/>
<path d="M285.3 270.1L286.8 270.8L288.2 271.6L289.6 272.5L290.9 273.4L292.1 274.4" stroke="rgb(61,61,61)" stroke-width="3.0"/>
<path d="M295.0 277.1L296.3 278.6L297.8 280.1L299.3 281.6L300.9 282.9L302.6 284.2" stroke="rgb(61,61,61)" stroke-width="2.7"/>
<path d="M304.4 285.2L306.2 286.2L308.0 287.1L309.9 288.0L311.8 288.9L313.6 289.8" stroke="rgb(61,61,61)" stroke-width="3.4"/>
<path d="M315.7 291.1L318.5 293.3L320.4 295.4L319.9 295.8L319.5 296.2L319.5 296.2" stroke="rgb(61,61,61)" stroke-width="3.3"/>
<path d="M288.2 272.0L289.3 272.7L290.3 273.4L291.3 274.2" stroke="rgb(89,89,89)" stroke-width="2.5"/>
<path d="M291.8 274.6L292.7 275.4L293.6 276.3L294.5 277.2" stroke="rgb(95,95,95)" stroke-width="1.2"/>
<path d="M294.9 277.6L295.9 278.6L296.8 279.7L297.8 280.7" stroke="rgb(88,88,88)" stroke-width="2.2"/>
<path d="M298.2 281.1L299.5 282.3L300.9 283.4L302.4 284.4" stroke="rgb(98,98,98)" stroke-width="1.4"/>
<path d="M308.9 287.9L309.8 288.3L310.7 288.7L311.6 289.2" stroke="rgb(82,82,82)" stroke-width="2.5"/>
<path d="M288.6 267.8L291.0 269.1L293.1 270.4L295.2 271.9L297.1 273.4L298.8 275.1" stroke="rgb(61,61,61)" stroke-width="2.6"/>
<path d="M300.3 276.6L301.9 278.3L303.6 280.0L305.4 281.7L307.3 283.2L309.3 284.7" stroke="rgb(61,61,61)" stroke-width="2.8"/>
<path d="M311.4 286.0L314.2 287.5L317.0 288.9L319.9 290.3L322.6 291.7L323.8 292.3" stroke="rgb(61,61,61)" stroke-width="2.9"/>
<path d="M296.5 273.4L297.5 274.3L298.4 275.2L299.3 276.1" stroke="rgb(108,108,108)" stroke-width="1.6"/>
<path d="M306.5 283.1L308.0 284.2L309.6 285.3L311.3 286.3" stroke="rgb(92,92,92)" stroke-width="2.3"/>
<path d="M311.9 286.6L312.6 287.0L313.4 287.4L314.2 287.8" stroke="rgb(110,110,110)" stroke-width="1.1"/>
<path d="M320.4 290.9L321.4 291.4L322.5 292.0L323.4 292.6" stroke="rgb(108,108,108)" stroke-width="2.4"/>
<ellipse cx="285.9" cy="294.9" rx="1.1" ry="0.6" transform="rotate(36 285.9 294.9)" fill="rgb(98,98,98)"/>
<ellipse cx="279.0" cy="283.2" rx="1.3" ry="0.6" transform="rotate(36 279.0 283.2)" fill="rgb(100,100,100)"/>
<ellipse cx="275.1" cy="289.9" rx="1.3" ry="0.6" transform="rotate(36 275.1 289.9)" fill="rgb(109,109,109)"/>
<ellipse cx="283.0" cy="274.2" rx="1.5" ry="0.6" transform="rotate(36 283.0 274.2)" fill="rgb(105,105,105)"/>
<ellipse cx="313.5" cy="284.2" rx="1.4" ry="0.6" transform="rotate(36 313.5 284.2)" fill="rgb(78,78,78)"/>
<ellipse cx="293.6" cy="297.7" rx="1.3" ry="0.6" transform="rotate(36 293.6 297.7)" fill="rgb(115,115,115)"/>
<ellipse cx="279.0" cy="290.3" rx="0.8" ry="0.6" transform="rotate(36 279.0 290.3)" fill="rgb(113,113,113)"/>
<ellipse cx="294.8" cy="284.6" rx="1.2" ry="0.6" transform="rotate(36 294.8 284.6)" fill="rgb(83,83,83)"/>
<ellipse cx="270.1" cy="287.1" rx="0.8" ry="0.6" transform="rotate(36 270.1 287.1)" fill="rgb(91,91,91)"/>
<ellipse cx="287.3" cy="299.0" rx="1.4" ry="0.6" transform="rotate(36 287.3 299.0)" fill="rgb(106,106,106)"/>
<ellipse cx="284.0" cy="293.8" rx="1.2" ry="0.6" transform="rotate(36 284.0 293.8)" fill="rgb(89,89,89)"/>
<ellipse cx="310.0" cy="299.8" rx="0.7" ry="0.6" transform="rotate(36 310.0 299.8)" fill="rgb(91,91,91)"/>
<ellipse cx="288.0" cy="276.7" rx="1.1" ry="0.6" transform="rotate(36 288.0 276.7)" fill="rgb(102,102,102)"/>
<ellipse cx="306.7" cy="282.4" rx="0.9" ry="0.6" transform="rotate(36 306.7 282.4)" fill="rgb(101,101,101)"/>
<ellipse cx="287.9" cy="281.8" rx="1.1" ry="0.6" transform="rotate(36 287.9 281.8)" fill="rgb(107,107,107)"/>
<ellipse cx="276.9" cy="288.8" rx="1.3" ry="0.6" transform="rotate(36 276.9 288.8)" fill="rgb(91,91,91)"/>
<ellipse cx="295.1" cy="300.2" rx="0.8" ry="0.6" transform="rotate(36 295.1 300.2)" fill="rgb(103,103,103)"/>
<ellipse cx="285.3" cy="275.8" rx="1.2" ry="0.6" transform="rotate(36 285.3 275.8)" fill="rgb(81,81,81)"/>
<ellipse cx="302.3" cy="303.2" rx="1.0" ry="0.6" transform="rotate(36 302.3 303.2)" fill="rgb(96,96,96)"/>
<ellipse cx="286.5" cy="272.0" rx="0.7" ry="0.6" transform="rotate(36 286.5 272.0)" fill="rgb(106,106,106)"/>
<ellipse cx="303.0" cy="306.9" rx="0.9" ry="0.6" transform="rotate(36 303.0 306.9)" fill="rgb(104,104,104)"/>
<ellipse cx="303.0" cy="308.1" rx="1.4" ry="0.6" transform="rotate(36 303.0 308.1)" fill="rgb(103,103,103)"/>
<ellipse cx="291.0" cy="298.7" rx="0.9" ry="0.6" transform="rotate(36 291.0 298.7)" fill="rgb(90,90,90)"/>
<ellipse cx="295.2" cy="294.7" rx="1.0" ry="0.6" transform="rotate(36 295.2 294.7)" fill="rgb(90,90,90)"/>
<ellipse cx="298.3" cy="304.0" rx="1.3" ry="0.6" transform="rotate(36 298.3 304.0)" fill="rgb(102,102,102)"/>
<ellipse cx="305.7" cy="298.7" rx="1.2" ry="0.6" transform="rotate(36 305.7 298.7)" fill="rgb(97,97,97)"/>
<ellipse cx="305.1" cy="293.3" rx="0.8" ry="0.6" transform="rotate(36 305.1 293.3)" fill="rgb(92,92,92)"/>
<ellipse cx="273.3" cy="289.8" rx="1.4" ry="0.6" transform="rotate(36 273.3 289.8)" fill="rgb(78,78,78)"/>
<ellipse cx="303.7" cy="295.6" rx="1.1" ry="0.6" transform="rotate(36 303.7 295.6)" fill="rgb(76,76,76)"/>
<ellipse cx="308.3" cy="284.3" rx="1.1" ry="0.6" transform="rotate(36 308.3 284.3)" fill="rgb(93,93,93)"/>
<ellipse cx="273.2" cy="287.4" rx="1.0" ry="0.6" transform="rotate(36 273.2 287.4)" fill="rgb(82,82,82)"/>
<ellipse cx="305.7" cy="300.4" rx="0.9" ry="0.6" transform="rotate(36 305.7 300.4)" fill="rgb(82,82,82)"/>
<ellipse cx="277.9" cy="284.4" rx="0.9" ry="0.6" transform="rotate(36 277.9 284.4)" fill="rgb(88,88,88)"/>
<ellipse cx="278.5" cy="277.6" rx="1.0" ry="0.6" transform="rotate(36 278.5 277.6)" fill="rgb(114,114,114)"/>
<ellipse cx="311.7" cy="285.0" rx="1.1" ry="0.6" transform="rotate(36 311.7 285.0)" fill="rgb(103,103,103)"/>
<ellipse cx="293.2" cy="271.5" rx="0.9" ry="0.6" transform="rotate(36 293.2 271.5)" fill="rgb(103,103,103)"/>
<ellipse cx="307.0" cy="291.1" rx="0.9" ry="0.6" transform="rotate(36 307.0 291.1)" fill="rgb(83,83,83)"/>
<ellipse cx="274.1" cy="290.6" rx="1.0" ry="0.6" transform="rotate(36 274.1 290.6)" fill="rgb(79,79,79)"/>
<ellipse cx="301.9" cy="276.8" rx="1.1" ry="0.6" transform="rotate(36 301.9 276.8)" fill="rgb(89,89,89)"/>
<ellipse cx="298.2" cy="298.7" rx="0.8" ry="0.6" transform="rotate(36 298.2 298.7)" fill="rgb(105,105,105)"/>
<ellipse cx="295.1" cy="298.0" rx="1.2" ry="0.6" transform="rotate(36 295.1 298.0)" fill="rgb(114,114,114)"/>
<ellipse cx="310.0" cy="301.9" rx="0.7" ry="0.6" transform="rotate(36 310.0 301.9)" fill="rgb(76,76,76)"/>
<ellipse cx="298.8" cy="281.4" rx="1.1" ry="0.6" transform="rotate(36 298.8 281.4)" fill="rgb(78,78,78)"/>
<ellipse cx="307.4" cy="280.1" rx="0.8" ry="0.6" transform="rotate(36 307.4 280.1)" fill="rgb(90,90,90)"/>
<ellipse cx="299.3" cy="307.1" rx="1.4" ry="0.6" transform="rotate(36 299.3 307.1)" fill="rgb(96,96,96)"/>
<ellipse cx="275.3" cy="290.5" rx="1.0" ry="0.6" transform="rotate(36 275.3 290.5)" fill="rgb(78,78,78)"/>
<ellipse cx="275.9" cy="290.7" rx="0.9" ry="0.6" transform="rotate(36 275.9 290.7)" fill="rgb(93,93,93)"/>
<ellipse cx="267.8" cy="285.2" rx="0.8" ry="0.6" transform="rotate(36 267.8 285.2)" fill="rgb(116,116,116)"/>
<ellipse cx="292.0" cy="286.2" rx="0.8" ry="0.6" transform="rotate(36 292.0 286.2)" fill="rgb(98,98,98)"/>
<ellipse cx="276.9" cy="282.4" rx="1.4" ry="0.6" transform="rotate(36 276.9 282.4)" fill="rgb(98,98,98)"/>
<ellipse cx="309.6" cy="295.6" rx="0.7" ry="0.6" transform="rotate(36 309.6 295.6)" fill="rgb(85,85,85)"/>
<ellipse cx="295.6" cy="287.7" rx="1.0" ry="0.6" transform="rotate(36 295.6 287.7)" fill="rgb(99,99,99)"/>
<ellipse cx="305.8" cy="291.9" rx="0.9" ry="0.6" transform="rotate(36 305.8 291.9)" fill="rgb(113,113,113)"/>
<ellipse cx="305.2" cy="297.8" rx="0.8" ry="0.6" transform="rotate(36 305.2 297.8)" fill="rgb(85,85,85)"/>
<ellipse cx="276.2" cy="281.9" rx="1.4" ry="0.6" transform="rotate(36 276.2 281.9)" fill="rgb(108,108,108)"/>
<ellipse cx="277.7" cy="283.0" rx="0.9" ry="0.6" transform="rotate(36 277.7 283.0)" fill="rgb(79,79,79)"/>
<ellipse cx="282.7" cy="294.7" rx="0.9" ry="0.6" transform="rotate(36 282.7 294.7)" fill="rgb(100,100,100)"/>
<ellipse cx="291.9" cy="302.1" rx="0.9" ry="0.6" transform="rotate(36 291.9 302.1)" fill="rgb(78,78,78)"/>
<ellipse cx="285.6" cy="289.6" rx="1.0" ry="0.6" transform="rotate(36 285.6 289.6)" fill="rgb(80,80,80)"/>
<ellipse cx="299.6" cy="298.6" rx="1.4" ry="0.6" transform="rotate(36 299.6 298.6)" fill="rgb(99,99,99)"/>
<ellipse cx="307.6" cy="292.2" rx="1.1" ry="0.6" transform="rotate(36 307.6 292.2)" fill="rgb(99,99,99)"/>
<ellipse cx="307.8" cy="286.6" rx="1.3" ry="0.6" transform="rotate(36 307.8 286.6)" fill="rgb(115,115,115)"/>
<ellipse cx="292.1" cy="279.4" rx="1.0" ry="0.6" transform="rotate(36 292.1 279.4)" fill="rgb(109,109,109)"/>
<ellipse cx="270.8" cy="284.5" rx="0.9" ry="0.6" transform="rotate(36 270.8 284.5)" fill="rgb(83,83,83)"/>
<ellipse cx="292.1" cy="280.3" rx="1.3" ry="0.6" transform="rotate(36 292.1 280.3)" fill="rgb(79,79,79)"/>
<ellipse cx="280.3" cy="276.1" rx="0.8" ry="0.6" transform="rotate(36 280.3 276.1)" fill="rgb(78,78,78)"/>
<ellipse cx="304.3" cy="300.4" rx="1.2" ry="0.6" transform="rotate(36 304.3 300.4)" fill="rgb(115,115,115)"/>
<ellipse cx="286.2" cy="292.0" rx="1.0" ry="0.6" transform="rotate(36 286.2 292.0)" fill="rgb(91,91,91)"/>
<ellipse cx="286.6" cy="300.1" rx="1.3" ry="0.6" transform="rotate(36 286.6 300.1)" fill="rgb(110,110,110)"/>
<ellipse cx="286.6" cy="297.1" rx="1.3" ry="0.6" transform="rotate(36 286.6 297.1)" fill="rgb(83,83,83)"/>
</g></g>
<clipPath id="cp01"><path d="M328.2 285.1L353.8 267.8L386.4 291.1L364.5 311.1z"/></clipPath>
<g filter="url(#bl)"><g clip-path="url(#cp01)" fill="none" stroke-linecap="round" stroke-linejoin="round">
<path d="M328.2 285.1L353.8 267.8L386.4 291.1L364.5 311.1z" fill="rgb(33,33,33)"/>
<path d="M329.4 282.8L330.4 284.0L331.3 285.2L332.3 286.4L333.3 287.6L334.5 288.7" stroke="rgb(91,91,91)" stroke-width="2.6"/>
<path d="M338.1 291.4L340.6 292.7L343.2 293.8L345.8 294.9L348.3 296.0L350.5 297.3" stroke="rgb(91,91,91)" stroke-width="2.7"/>
<path d="M352.8 299.1L355.1 301.4L357.1 304.0L359.3 306.4L361.9 308.6L364.9 310.3" stroke="rgb(91,91,91)" stroke-width="3.3"/>
<path d="M329.0 283.0L330.4 284.6L331.6 286.2L333.0 287.7" stroke="rgb(163,163,163)" stroke-width="2.2"/>
<path d="M333.4 288.2L334.3 289.1L335.3 289.9L336.3 290.6" stroke="rgb(252,252,252)" stroke-width="1.0"/>
<path d="M336.8 291.0L338.2 291.8L339.6 292.6L341.2 293.3" stroke="rgb(242,242,242)" stroke-width="1.6"/>
<path d="M341.8 293.6L342.8 294.0L343.8 294.4L344.7 294.8" stroke="rgb(173,173,173)" stroke-width="1.8"/>
<path d="M349.4 297.0L350.2 297.6L351.0 298.1L351.8 298.7" stroke="rgb(178,178,178)" stroke-width="2.5"/>
<path d="M356.6 303.8L357.6 305.0L358.6 306.2L359.7 307.3" stroke="rgb(167,167,167)" stroke-width="2.2"/>
<path d="M360.2 307.7L361.3 308.6L362.5 309.3L363.7 310.1" stroke="rgb(170,170,170)" stroke-width="1.1"/>
<path d="M332.8 280.5L335.5 282.2L337.9 284.1L340.1 286.1L342.2 288.2L344.3 290.3" stroke="rgb(91,91,91)" stroke-width="3.2"/>
<path d="M346.7 292.7L349.3 294.9L352.1 296.9L355.1 298.7L358.3 300.3L361.5 301.9" stroke="rgb(91,91,91)" stroke-width="2.7"/>
<path d="M362.8 302.6L365.2 303.9L367.6 305.3L369.8 306.8L370.4 307.4L370.2 307.6" stroke="rgb(91,91,91)" stroke-width="2.9"/>
<path d="M332.5 280.7L333.6 281.4L334.6 282.0L335.6 282.7" stroke="rgb(155,155,155)" stroke-width="1.5"/>
<path d="M336.1 283.1L337.0 283.8L337.9 284.6L338.8 285.3" stroke="rgb(224,224,224)" stroke-width="1.6"/>
<path d="M349.0 295.2L350.4 296.1L351.8 297.1L353.2 298.0" stroke="rgb(234,234,234)" stroke-width="1.5"/>
<path d="M358.7 300.9L360.0 301.6L361.4 302.3L362.7 302.9" stroke="rgb(160,160,160)" stroke-width="1.1"/>
<path d="M363.3 303.2L364.4 303.8L365.4 304.4L366.5 305.0" stroke="rgb(230,230,230)" stroke-width="2.1"/>
<path d="M336.1 278.3L338.7 280.2L341.1 282.3L343.4 284.4L345.7 286.5L348.0 288.7" stroke="rgb(91,91,91)" stroke-width="3.0"/>
<path d="M351.3 291.7L354.2 293.9L357.2 296.0L360.3 297.9L363.6 299.8L366.9 301.5" stroke="rgb(91,91,91)" stroke-width="3.0"/>
<path d="M370.7 303.6L373.1 305.0L373.2 304.9L373.2 304.9L373.1 305.0L372.8 305.2" stroke="rgb(91,91,91)" stroke-width="2.9"/>
<path d="M342.1 283.7L343.1 284.6L344.1 285.6L345.2 286.5" stroke="rgb(153,153,153)" stroke-width="1.6"/>
<path d="M352.9 293.3L354.1 294.3L355.4 295.2L356.7 296.1" stroke="rgb(164,164,164)" stroke-width="2.0"/>
<path d="M365.4 301.1L366.3 301.6L367.1 302.0L368.0 302.5" stroke="rgb(180,180,180)" stroke-width="1.9"/>
<path d="M368.5 302.8L370.4 303.8L372.1 304.8L372.9 305.2" stroke="rgb(217,217,217)" stroke-width="2.1"/>
<path d="M338.9 276.4L341.7 278.4L344.3 280.5L346.7 282.7L349.2 284.9L351.7 287.1" stroke="rgb(91,91,91)" stroke-width="3.3"/>
<path d="M354.8 289.3L356.8 290.6L358.9 291.8L361.0 293.0L363.1 294.2L365.2 295.4" stroke="rgb(91,91,91)" stroke-width="2.7"/>
<path d="M367.8 297.1L370.6 299.2L373.3 301.5L375.0 303.2L374.7 303.4L374.7 303.5" stroke="rgb(91,91,91)" stroke-width="2.6"/>
<path d="M342.7 279.7L343.4 280.2L344.0 280.8L344.7 281.3" stroke="rgb(164,164,164)" stroke-width="1.8"/>
<path d="M345.1 281.7L346.2 282.7L347.3 283.7L348.4 284.7" stroke="rgb(172,172,172)" stroke-width="1.9"/>
<path d="M353.0 288.4L354.4 289.4L355.8 290.4L357.3 291.3" stroke="rgb(202,202,202)" stroke-width="2.3"/>
<path d="M357.9 291.6L359.8 292.7L361.6 293.7L363.5 294.8" stroke="rgb(239,239,239)" stroke-width="2.0"/>
<path d="M364.1 295.1L365.8 296.2L367.5 297.3L369.2 298.5" stroke="rgb(224,224,224)" stroke-width="2.3"/>
<path d="M369.7 298.9L370.7 299.7L371.7 300.5L372.6 301.4" stroke="rgb(172,172,172)" stroke-width="1.2"/>
<path d="M373.1 301.8L373.6 302.3L374.2 302.7L374.7 303.2" stroke="rgb(215,215,215)" stroke-width="1.2"/>
<path d="M340.6 275.3L343.4 277.1L346.6 278.7L349.9 280.2L353.1 281.7L355.9 283.5" stroke="rgb(91,91,91)" stroke-width="3.1"/>
<path d="M358.9 286.4L361.2 289.1L363.7 291.7L366.7 293.9L370.1 295.6L373.8 297.2" stroke="rgb(91,91,91)" stroke-width="3.0"/>
<path d="M340.3 275.5L340.9 275.9L341.5 276.3L342.1 276.7" stroke="rgb(159,159,159)" stroke-width="1.3"/>
<path d="M342.6 277.1L343.7 277.7L344.8 278.2L345.9 278.8" stroke="rgb(222,222,222)" stroke-width="2.1"/>
<path d="M346.5 279.0L347.2 279.3L347.9 279.6L348.6 279.9" stroke="rgb(208,208,208)" stroke-width="1.6"/>
<path d="M349.3 280.2L350.0 280.5L350.8 280.9L351.5 281.2" stroke="rgb(191,191,191)" stroke-width="2.0"/>
<path d="M356.0 284.1L357.4 285.4L358.8 286.8L360.0 288.3" stroke="rgb(230,230,230)" stroke-width="2.1"/>
<path d="M360.4 288.8L361.0 289.5L361.7 290.3L362.4 291.0" stroke="rgb(201,201,201)" stroke-width="1.5"/>
<path d="M367.5 294.7L368.6 295.3L369.7 295.8L370.9 296.3" stroke="rgb(203,203,203)" stroke-width="2.0"/>
<path d="M371.5 296.5L373.3 297.3L375.0 298.1L376.6 298.9" stroke="rgb(183,183,183)" stroke-width="1.5"/>
<path d="M377.2 299.3L378.4 300.1L378.3 300.1L378.1 300.3" stroke="rgb(158,158,158)" stroke-width="1.6"/>
<path d="M345.7 271.9L347.3 273.0L348.8 274.1L350.3 275.3L351.7 276.5L353.1 277.7" stroke="rgb(91,91,91)" stroke-width="2.3"/>
<path d="M355.1 279.6L357.7 282.0L360.3 284.5L363.1 286.8L366.1 289.0L369.2 291.0" stroke="rgb(91,91,91)" stroke-width="2.8"/>
<path d="M371.5 292.4L374.8 294.1L378.0 295.9L381.1 297.6L381.3 297.4L381.4 297.3" stroke="rgb(91,91,91)" stroke-width="2.3"/>
<path d="M345.4 272.1L346.9 273.1L348.3 274.1L349.7 275.2" stroke="rgb(231,231,231)" stroke-width="1.5"/>
<path d="M350.1 275.6L350.6 276.0L351.0 276.3L351.4 276.7" stroke="rgb(199,199,199)" stroke-width="1.6"/>
<path d="M351.9 277.1L352.8 278.0L353.8 278.9L354.7 279.8" stroke="rgb(175,175,175)" stroke-width="2.5"/>
<path d="M355.2 280.2L356.0 281.0L356.9 281.8L357.7 282.6" stroke="rgb(161,161,161)" stroke-width="1.4"/>
<path d="M363.1 287.3L364.2 288.1L365.3 288.9L366.4 289.6" stroke="rgb(193,193,193)" stroke-width="2.2"/>
<path d="M366.9 290.0L367.9 290.6L369.0 291.3L370.1 291.9" stroke="rgb(245,245,245)" stroke-width="2.0"/>
<path d="M370.6 292.3L372.0 293.0L373.4 293.8L374.8 294.5" stroke="rgb(155,155,155)" stroke-width="2.2"/>
<path d="M349.0 269.7L351.1 272.1L353.1 274.6L355.3 277.0L358.1 279.1L361.4 280.7" stroke="rgb(91,91,91)" stroke-width="2.4"/>
<path d="M365.3 282.2L367.6 283.2L369.7 284.3L371.5 285.6L373.2 287.1L374.6 288.7" stroke="rgb(91,91,91)" stroke-width="3.4"/>
<path d="M377.3 292.1L378.5 293.4L379.7 294.6L381.2 295.6L382.4 296.4L382.7 296.1" stroke="rgb(91,91,91)" stroke-width="2.7"/>
<path d="M348.7 269.9L349.5 270.7L350.3 271.6L351.0 272.5" stroke="rgb(220,220,220)" stroke-width="1.2"/>
<path d="M351.4 273.0L351.8 273.6L352.3 274.2L352.7 274.8" stroke="rgb(160,160,160)" stroke-width="1.6"/>
<path d="M357.8 279.3L358.6 279.7L359.4 280.1L360.2 280.5" stroke="rgb(237,237,237)" stroke-width="2.4"/>
<path d="M360.8 280.8L362.3 281.4L363.8 282.0L365.3 282.5" stroke="rgb(177,177,177)" stroke-width="2.4"/>
<path d="M365.9 282.8L367.8 283.7L369.6 284.7L371.2 285.8" stroke="rgb(171,171,171)" stroke-width="1.6"/>
<path d="M376.4 291.6L376.8 292.1L377.3 292.7L377.9 293.3" stroke="rgb(252,252,252)" stroke-width="2.1"/>
<path d="M378.3 293.7L378.8 294.2L379.3 294.6L379.8 295.1" stroke="rgb(218,218,218)" stroke-width="1.6"/>
<path d="M380.3 295.4L381.2 296.1L382.1 296.6L382.3 296.5" stroke="rgb(212,212,212)" stroke-width="2.4"/>
<path d="M352.1 267.6L354.1 269.1L356.1 270.6L357.9 272.2L359.6 273.9L361.4 275.6" stroke="rgb(91,91,91)" stroke-width="3.1"/>
<path d="M362.5 276.7L364.2 278.3L366.0 279.8L367.8 281.3L369.8 282.6L371.9 283.9" stroke="rgb(91,91,91)" stroke-width="3.0"/>
<path d="M373.0 284.5L375.9 286.0L378.7 287.5L381.6 289.0L384.3 290.6L386.8 292.4" stroke="rgb(91,91,91)" stroke-width="2.7"/>
<path d="M355.7 270.7L356.1 271.1L356.6 271.5L357.0 271.9" stroke="rgb(156,156,156)" stroke-width="1.6"/>
<path d="M357.5 272.3L358.2 273.0L358.9 273.7L359.6 274.4" stroke="rgb(183,183,183)" stroke-width="1.7"/>
<path d="M363.6 278.3L364.4 279.0L365.2 279.7L366.0 280.4" stroke="rgb(225,225,225)" stroke-width="2.4"/>
<path d="M372.0 284.3L372.9 284.8L373.8 285.3L374.7 285.8" stroke="rgb(248,248,248)" stroke-width="1.1"/>
<path d="M379.2 288.1L380.4 288.8L381.6 289.4L382.8 290.1" stroke="rgb(247,247,247)" stroke-width="1.4"/>
<ellipse cx="346.5" cy="291.3" rx="2.2" ry="1.0" transform="rotate(36 346.5 291.3)" fill="rgb(239,239,239)"/>
<ellipse cx="344.5" cy="280.3" rx="1.9" ry="1.0" transform="rotate(36 344.5 280.3)" fill="rgb(227,227,227)"/>
<ellipse cx="361.0" cy="276.8" rx="2.4" ry="1.2" transform="rotate(36 361.0 276.8)" fill="rgb(232,232,232)"/>
<ellipse cx="363.2" cy="299.5" rx="2.0" ry="1.2" transform="rotate(36 363.2 299.5)" fill="rgb(243,243,243)"/>
<ellipse cx="346.1" cy="287.7" rx="2.0" ry="1.3" transform="rotate(36 346.1 287.7)" fill="rgb(251,251,251)"/>
<ellipse cx="341.0" cy="286.1" rx="2.4" ry="1.2" transform="rotate(36 341.0 286.1)" fill="rgb(225,225,225)"/>
<ellipse cx="334.6" cy="286.6" rx="2.1" ry="1.3" transform="rotate(36 334.6 286.6)" fill="rgb(249,249,249)"/>
<ellipse cx="351.7" cy="297.9" rx="2.4" ry="1.2" transform="rotate(36 351.7 297.9)" fill="rgb(227,227,227)"/>
</g></g>
<clipPath id="cp02"><path d="M391.2 285.1L416.8 267.8L449.4 291.1L427.5 311.1z"/></clipPath>
<g filter="url(#bl)"><g clip-path="url(#cp02)" fill="none" stroke-linecap="round" stroke-linejoin="round">
<path d="M391.2 285.1L416.8 267.8L449.4 291.1L427.5 311.1z" fill="rgb(35,35,35)"/>
<path d="M391.5 283.4L392.6 284.5L393.8 285.5L395.0 286.5L396.4 287.5L397.8 288.3" stroke="rgb(102,102,102)" stroke-width="2.3"/>
<path d="M401.3 290.2L402.8 291.0L404.3 291.8L405.7 292.6L407.1 293.4L408.4 294.3" stroke="rgb(102,102,102)" stroke-width="2.3"/>
<path d="M410.7 296.1L412.8 298.2L414.9 300.3L417.1 302.3L419.6 304.1L422.3 305.7" stroke="rgb(102,102,102)" stroke-width="3.3"/>
<path d="M425.9 307.6L427.3 308.3L428.7 309.0L430.0 309.8L430.5 310.1L430.5 310.1" stroke="rgb(102,102,102)" stroke-width="3.0"/>
<path d="M393.3 285.6L394.1 286.2L394.9 286.8L395.7 287.4" stroke="rgb(165,165,165)" stroke-width="2.1"/>
<path d="M400.8 290.3L402.1 291.0L403.4 291.6L404.6 292.3" stroke="rgb(185,185,185)" stroke-width="1.4"/>
<path d="M405.2 292.7L407.1 293.8L408.8 295.0L410.4 296.4" stroke="rgb(173,173,173)" stroke-width="1.5"/>
<path d="M410.9 296.8L411.4 297.3L411.9 297.8L412.4 298.3" stroke="rgb(221,221,221)" stroke-width="2.0"/>
<path d="M412.9 298.7L413.5 299.3L414.1 299.9L414.7 300.5" stroke="rgb(209,209,209)" stroke-width="2.0"/>
<path d="M415.1 301.0L416.1 301.8L417.1 302.7L418.1 303.5" stroke="rgb(247,247,247)" stroke-width="1.2"/>
<path d="M418.7 303.9L419.5 304.5L420.4 305.0L421.3 305.6" stroke="rgb(213,213,213)" stroke-width="2.4"/>
<path d="M421.9 305.9L423.3 306.6L424.7 307.3L426.1 308.0" stroke="rgb(203,203,203)" stroke-width="2.2"/>
<path d="M426.7 308.4L428.5 309.3L430.2 310.4L430.2 310.4" stroke="rgb(175,175,175)" stroke-width="1.4"/>
<path d="M395.9 280.4L398.0 282.4L400.0 284.4L402.0 286.4L404.0 288.4L406.1 290.4" stroke="rgb(102,102,102)" stroke-width="3.0"/>
<path d="M409.8 293.2L411.2 294.1L412.6 295.0L414.1 295.8L415.6 296.6L417.1 297.4" stroke="rgb(102,102,102)" stroke-width="3.1"/>
<path d="M419.5 298.5L421.0 299.3L422.5 300.0L424.0 300.8L425.4 301.6L426.7 302.4" stroke="rgb(102,102,102)" stroke-width="3.0"/>
<path d="M430.2 304.9L432.3 306.7L433.1 307.8L432.7 308.1L432.3 308.4L432.0 308.7" stroke="rgb(102,102,102)" stroke-width="2.3"/>
<path d="M395.6 280.7L396.5 281.4L397.3 282.2L398.1 283.0" stroke="rgb(230,230,230)" stroke-width="1.4"/>
<path d="M398.6 283.4L399.4 284.3L400.2 285.1L401.0 286.0" stroke="rgb(174,174,174)" stroke-width="1.1"/>
<path d="M401.5 286.5L402.6 287.6L403.8 288.8L405.1 290.0" stroke="rgb(243,243,243)" stroke-width="1.1"/>
<path d="M405.6 290.4L406.3 291.1L407.2 291.7L408.0 292.4" stroke="rgb(249,249,249)" stroke-width="2.2"/>
<path d="M408.5 292.8L410.2 293.9L412.0 295.0L413.9 296.0" stroke="rgb(175,175,175)" stroke-width="1.6"/>
<path d="M414.5 296.4L415.4 296.8L416.3 297.3L417.2 297.7" stroke="rgb(216,216,216)" stroke-width="1.4"/>
<path d="M417.8 298.0L418.5 298.4L419.2 298.7L420.0 299.1" stroke="rgb(249,249,249)" stroke-width="2.4"/>
<path d="M420.6 299.4L421.8 300.0L423.1 300.7L424.3 301.4" stroke="rgb(234,234,234)" stroke-width="1.2"/>
<path d="M424.9 301.7L426.1 302.5L427.4 303.2L428.5 304.1" stroke="rgb(253,253,253)" stroke-width="1.8"/>
<path d="M429.1 304.5L430.1 305.2L431.0 306.1L432.0 306.9" stroke="rgb(214,214,214)" stroke-width="2.5"/>
<path d="M398.6 278.7L401.2 281.1L403.8 283.5L406.5 285.8L409.5 287.9L412.8 289.9" stroke="rgb(102,102,102)" stroke-width="2.7"/>
<path d="M415.9 291.7L419.3 293.5L422.5 295.5L425.4 297.6L428.2 300.0L430.8 302.4" stroke="rgb(102,102,102)" stroke-width="2.6"/>
<path d="M433.8 305.1L434.9 306.1L434.9 306.1L435.0 306.0L435.2 305.8L435.4 305.6" stroke="rgb(102,102,102)" stroke-width="2.4"/>
<path d="M398.2 278.9L399.7 280.2L401.2 281.6L402.6 282.9" stroke="rgb(205,205,205)" stroke-width="2.4"/>
<path d="M403.1 283.4L404.2 284.3L405.3 285.3L406.4 286.2" stroke="rgb(191,191,191)" stroke-width="2.1"/>
<path d="M406.9 286.6L407.7 287.1L408.6 287.7L409.4 288.3" stroke="rgb(233,233,233)" stroke-width="1.9"/>
<path d="M409.9 288.6L410.6 289.0L411.3 289.5L412.0 289.9" stroke="rgb(227,227,227)" stroke-width="2.1"/>
<path d="M415.2 291.7L416.0 292.1L416.7 292.5L417.4 292.8" stroke="rgb(173,173,173)" stroke-width="1.7"/>
<path d="M425.2 297.9L425.7 298.3L426.3 298.8L426.9 299.3" stroke="rgb(188,188,188)" stroke-width="1.5"/>
<path d="M431.4 303.4L432.2 304.1L433.0 304.9L433.8 305.6" stroke="rgb(222,222,222)" stroke-width="1.7"/>
<path d="M400.4 277.4L402.4 278.5L404.5 279.5L406.5 280.5L408.6 281.5L410.6 282.6" stroke="rgb(102,102,102)" stroke-width="3.3"/>
<path d="M412.3 283.4L414.3 284.6L416.3 286.0L418.2 287.4L419.9 288.9L421.5 290.5" stroke="rgb(102,102,102)" stroke-width="2.7"/>
<path d="M424.6 293.7L425.7 294.8L426.8 295.9L427.9 297.0L429.1 298.0L430.3 299.0" stroke="rgb(102,102,102)" stroke-width="3.0"/>
<path d="M433.6 301.2L436.4 302.8L437.9 303.3L438.4 302.9L438.7 302.5L439.0 302.3" stroke="rgb(102,102,102)" stroke-width="2.2"/>
<path d="M403.7 279.5L405.3 280.3L406.8 281.0L408.4 281.8" stroke="rgb(240,240,240)" stroke-width="2.0"/>
<path d="M420.5 290.0L421.1 290.5L421.6 291.1L422.2 291.7" stroke="rgb(165,165,165)" stroke-width="2.2"/>
<path d="M426.6 296.3L427.1 296.7L427.5 297.1L428.0 297.6" stroke="rgb(208,208,208)" stroke-width="1.2"/>
<path d="M431.1 300.0L432.7 301.1L434.3 302.1L436.1 303.0" stroke="rgb(239,239,239)" stroke-width="2.0"/>
<path d="M405.3 274.1L406.7 275.4L408.1 276.7L409.4 278.0L410.7 279.3L412.1 280.6" stroke="rgb(102,102,102)" stroke-width="2.2"/>
<path d="M414.6 282.9L416.7 284.6L418.9 286.2L421.3 287.6L423.8 289.0L426.3 290.4" stroke="rgb(102,102,102)" stroke-width="3.1"/>
<path d="M429.1 291.8L431.3 293.0L433.4 294.2L435.4 295.4L437.3 296.8L439.2 298.2" stroke="rgb(102,102,102)" stroke-width="2.6"/>
<path d="M405.0 274.4L405.8 275.1L406.6 275.8L407.4 276.6" stroke="rgb(233,233,233)" stroke-width="1.7"/>
<path d="M407.8 277.0L408.9 278.1L410.1 279.2L411.2 280.3" stroke="rgb(188,188,188)" stroke-width="2.3"/>
<path d="M411.6 280.7L412.2 281.2L412.7 281.7L413.3 282.2" stroke="rgb(167,167,167)" stroke-width="2.1"/>
<path d="M413.8 282.7L414.3 283.1L414.8 283.6L415.4 284.0" stroke="rgb(204,204,204)" stroke-width="2.2"/>
<path d="M415.9 284.4L416.9 285.2L418.0 285.9L419.1 286.7" stroke="rgb(167,167,167)" stroke-width="2.2"/>
<path d="M419.6 287.0L421.2 287.9L422.8 288.8L424.4 289.7" stroke="rgb(240,240,240)" stroke-width="1.9"/>
<path d="M430.2 292.8L431.6 293.5L432.9 294.3L434.2 295.1" stroke="rgb(244,244,244)" stroke-width="2.5"/>
<path d="M434.8 295.4L435.5 295.9L436.2 296.4L436.9 296.9" stroke="rgb(196,196,196)" stroke-width="1.2"/>
<path d="M437.4 297.3L438.3 298.0L439.2 298.7L440.0 299.4" stroke="rgb(185,185,185)" stroke-width="1.0"/>
<path d="M408.2 272.2L409.8 273.7L411.2 275.2L412.8 276.6L414.4 278.1L416.1 279.4" stroke="rgb(102,102,102)" stroke-width="2.4"/>
<path d="M420.0 281.8L423.3 283.5L426.5 285.1L429.5 287.0L432.2 289.2L434.6 291.5" stroke="rgb(102,102,102)" stroke-width="3.0"/>
<path d="M435.9 292.9L437.5 294.4L439.2 295.8L441.0 297.2L442.9 298.4L443.3 298.4" stroke="rgb(102,102,102)" stroke-width="2.7"/>
<path d="M407.9 272.4L408.4 272.8L408.8 273.2L409.2 273.6" stroke="rgb(234,234,234)" stroke-width="2.0"/>
<path d="M424.8 284.6L425.9 285.2L426.9 285.8L428.0 286.4" stroke="rgb(224,224,224)" stroke-width="2.3"/>
<path d="M428.5 286.8L429.8 287.7L431.1 288.7L432.3 289.8" stroke="rgb(182,182,182)" stroke-width="1.5"/>
<path d="M435.1 292.5L436.3 293.7L437.5 294.9L438.8 296.0" stroke="rgb(213,213,213)" stroke-width="2.3"/>
<path d="M439.3 296.4L440.2 297.1L441.1 297.7L442.0 298.3" stroke="rgb(219,219,219)" stroke-width="1.5"/>
<path d="M411.5 270.0L412.9 270.9L414.2 271.8L415.6 272.6L416.9 273.6L418.2 274.5" stroke="rgb(102,102,102)" stroke-width="2.7"/>
<path d="M419.4 275.4L420.4 276.2L421.3 276.9L422.3 277.7L423.2 278.5L424.1 279.3" stroke="rgb(102,102,102)" stroke-width="2.9"/>
<path d="M427.3 282.1L429.7 284.2L432.2 286.2L434.8 288.2L437.4 290.2L440.2 292.0" stroke="rgb(102,102,102)" stroke-width="2.6"/>
<path d="M443.9 294.3L445.1 295.0L446.2 295.7L446.3 295.6L446.4 295.5L446.5 295.4" stroke="rgb(102,102,102)" stroke-width="2.4"/>
<path d="M411.2 270.2L411.7 270.6L412.3 270.9L412.8 271.2" stroke="rgb(233,233,233)" stroke-width="1.7"/>
<path d="M413.3 271.6L414.8 272.6L416.3 273.6L417.7 274.6" stroke="rgb(247,247,247)" stroke-width="1.9"/>
<path d="M418.2 274.9L419.2 275.8L420.3 276.6L421.3 277.4" stroke="rgb(203,203,203)" stroke-width="1.7"/>
<path d="M421.8 277.8L423.1 278.9L424.4 280.0L425.8 281.2" stroke="rgb(192,192,192)" stroke-width="2.2"/>
<path d="M426.2 281.6L426.7 282.0L427.2 282.4L427.6 282.8" stroke="rgb(185,185,185)" stroke-width="2.0"/>
<path d="M428.1 283.2L429.2 284.2L430.2 285.1L431.3 286.0" stroke="rgb(230,230,230)" stroke-width="1.6"/>
<path d="M434.7 288.6L436.1 289.6L437.5 290.6L438.9 291.6" stroke="rgb(226,226,226)" stroke-width="1.2"/>
<path d="M439.4 292.0L440.6 292.7L441.7 293.4L442.9 294.1" stroke="rgb(222,222,222)" stroke-width="2.4"/>
<path d="M443.4 294.4L444.7 295.2L445.9 295.9L446.0 295.8" stroke="rgb(211,211,211)" stroke-width="1.7"/>
<path d="M414.5 268.0L416.2 269.4L417.8 270.9L419.5 272.4L421.2 273.9L423.0 275.3" stroke="rgb(102,102,102)" stroke-width="2.3"/>
<path d="M425.8 277.3L427.3 278.3L428.9 279.2L430.5 280.2L432.1 281.1L433.7 282.0" stroke="rgb(102,102,102)" stroke-width="2.5"/>
<path d="M435.0 282.8L436.8 283.8L438.5 284.8L440.1 285.9L441.7 287.0L443.3 288.1" stroke="rgb(102,102,102)" stroke-width="3.3"/>
<path d="M445.0 289.5L446.0 290.4L447.1 291.3L448.2 292.2L449.0 293.0L448.9 293.2" stroke="rgb(102,102,102)" stroke-width="2.6"/>
<path d="M414.2 268.2L414.7 268.6L415.2 269.0L415.7 269.5" stroke="rgb(184,184,184)" stroke-width="2.0"/>
<path d="M416.1 269.8L417.0 270.6L417.9 271.4L418.8 272.2" stroke="rgb(242,242,242)" stroke-width="1.5"/>
<path d="M419.2 272.6L420.4 273.6L421.5 274.6L422.7 275.5" stroke="rgb(243,243,243)" stroke-width="1.1"/>
<path d="M423.2 275.9L423.9 276.4L424.6 276.9L425.4 277.4" stroke="rgb(189,189,189)" stroke-width="2.2"/>
<path d="M425.9 277.8L427.0 278.5L428.1 279.2L429.2 279.8" stroke="rgb(210,210,210)" stroke-width="2.3"/>
<path d="M429.8 280.2L431.0 280.9L432.2 281.6L433.5 282.3" stroke="rgb(224,224,224)" stroke-width="1.9"/>
<path d="M434.0 282.6L435.1 283.2L436.1 283.8L437.1 284.4" stroke="rgb(177,177,177)" stroke-width="1.7"/>
<path d="M437.6 284.7L439.2 285.7L440.7 286.7L442.2 287.8" stroke="rgb(198,198,198)" stroke-width="1.9"/>
<path d="M442.7 288.1L443.8 289.0L444.9 289.9L446.0 290.8" stroke="rgb(205,205,205)" stroke-width="2.1"/>
<path d="M446.4 291.2L446.9 291.6L447.3 291.9L447.7 292.3" stroke="rgb(233,233,233)" stroke-width="2.4"/>
<ellipse cx="400.0" cy="286.5" rx="1.8" ry="1.2" transform="rotate(36 400.0 286.5)" fill="rgb(243,243,243)"/>
<ellipse cx="410.6" cy="295.1" rx="1.9" ry="1.2" transform="rotate(36 410.6 295.1)" fill="rgb(229,229,229)"/>
<ellipse cx="431.6" cy="295.9" rx="2.2" ry="1.3" transform="rotate(36 431.6 295.9)" fill="rgb(250,250,250)"/>
<ellipse cx="414.0" cy="293.3" rx="2.2" ry="1.0" transform="rotate(36 414.0 293.3)" fill="rgb(234,234,234)"/>
<ellipse cx="425.3" cy="280.2" rx="2.6" ry="1.3" transform="rotate(36 425.3 280.2)" fill="rgb(248,248,248)"/>
<ellipse cx="429.5" cy="298.0" rx="1.7" ry="1.2" transform="rotate(36 429.5 298.0)" fill="rgb(254,254,254)"/>
<ellipse cx="424.6" cy="284.4" rx="1.7" ry="1.1" transform="rotate(36 424.6 284.4)" fill="rgb(232,232,232)"/>
<ellipse cx="427.1" cy="280.1" rx="2.2" ry="1.1" transform="rotate(36 427.1 280.1)" fill="rgb(232,232,232)"/>
<ellipse cx="422.2" cy="286.1" rx="1.5" ry="1.3" transform="rotate(36 422.2 286.1)" fill="rgb(233,233,233)"/>
<ellipse cx="417.1" cy="281.1" rx="2.2" ry="1.1" transform="rotate(36 417.1 281.1)" fill="rgb(239,239,239)"/>
</g></g>
<clipPath id="cp03"><path d="M454.8 285.1L480.4 267.8L513.0 291.1L491.1 311.1z"/></clipPath>
<g filter="url(#bl)"><g clip-path="url(#cp03)" fill="none" stroke-linecap="round" stroke-linejoin="round">
<path d="M454.8 285.1L480.4 267.8L513.0 291.1L491.1 311.1z" fill="rgb(40,40,40)"/>
<path d="M454.6 283.7L456.7 284.9L458.8 286.0L460.9 287.0L463.0 288.1L465.1 289.2" stroke="rgb(140,140,140)" stroke-width="2.9"/>
<path d="M466.8 290.2L470.0 292.4L472.9 294.7L475.6 297.3L478.2 299.9L480.8 302.5" stroke="rgb(140,140,140)" stroke-width="2.3"/>
<path d="M483.1 304.5L484.8 305.7L486.5 306.9L488.3 308.0L490.1 309.1L492.0 310.1" stroke="rgb(140,140,140)" stroke-width="2.8"/>
<path d="M457.6 285.7L459.4 286.6L461.2 287.5L463.0 288.4" stroke="rgb(227,227,227)" stroke-width="1.0"/>
<path d="M463.6 288.8L464.3 289.2L465.0 289.6L465.7 290.0" stroke="rgb(254,254,254)" stroke-width="1.5"/>
<path d="M466.3 290.3L467.2 290.9L468.0 291.4L468.9 292.0" stroke="rgb(209,209,209)" stroke-width="2.5"/>
<path d="M473.9 296.2L475.3 297.5L476.6 298.8L477.9 300.2" stroke="rgb(217,217,217)" stroke-width="1.3"/>
<path d="M478.4 300.6L479.1 301.3L479.8 302.0L480.6 302.7" stroke="rgb(212,212,212)" stroke-width="2.1"/>
<path d="M481.0 303.2L482.1 304.1L483.1 304.9L484.2 305.8" stroke="rgb(219,219,219)" stroke-width="2.3"/>
<path d="M484.8 306.2L486.4 307.3L488.2 308.4L489.9 309.4" stroke="rgb(241,241,241)" stroke-width="2.4"/>
<path d="M490.6 309.7L491.9 310.4L493.2 311.0L493.4 310.8" stroke="rgb(233,233,233)" stroke-width="1.4"/>
<path d="M458.5 281.1L460.0 281.9L461.5 282.7L463.0 283.6L464.4 284.5L465.8 285.4" stroke="rgb(140,140,140)" stroke-width="2.3"/>
<path d="M467.6 286.6L469.3 288.0L471.0 289.5L472.7 291.0L474.3 292.5L475.9 294.0" stroke="rgb(140,140,140)" stroke-width="3.3"/>
<path d="M478.1 295.9L480.9 298.0L483.9 300.0L487.0 301.8L490.2 303.6L493.3 305.4" stroke="rgb(140,140,140)" stroke-width="3.1"/>
<path d="M458.2 281.3L459.3 281.9L460.3 282.4L461.3 283.0" stroke="rgb(220,220,220)" stroke-width="2.0"/>
<path d="M461.9 283.3L463.6 284.4L465.3 285.4L466.9 286.6" stroke="rgb(219,219,219)" stroke-width="1.2"/>
<path d="M467.4 286.9L467.9 287.3L468.3 287.7L468.8 288.0" stroke="rgb(215,215,215)" stroke-width="1.0"/>
<path d="M469.3 288.4L470.1 289.1L470.9 289.8L471.6 290.5" stroke="rgb(214,214,214)" stroke-width="2.0"/>
<path d="M472.1 290.9L473.2 291.9L474.3 293.0L475.4 294.0" stroke="rgb(241,241,241)" stroke-width="1.3"/>
<path d="M475.8 294.4L477.4 295.7L478.9 297.0L480.6 298.2" stroke="rgb(234,234,234)" stroke-width="2.1"/>
<path d="M481.1 298.6L482.6 299.6L484.1 300.6L485.7 301.5" stroke="rgb(248,248,248)" stroke-width="1.9"/>
<path d="M486.3 301.8L487.8 302.7L489.4 303.5L490.9 304.4" stroke="rgb(213,213,213)" stroke-width="1.7"/>
<path d="M491.5 304.7L492.8 305.4L494.1 306.2L495.3 307.0" stroke="rgb(241,241,241)" stroke-width="1.5"/>
<path d="M462.1 278.7L463.4 280.2L464.8 281.6L466.2 283.0L467.7 284.4L469.4 285.6" stroke="rgb(140,140,140)" stroke-width="2.9"/>
<path d="M472.5 287.3L475.4 288.7L478.3 290.1L481.0 291.6L483.4 293.4L485.6 295.3" stroke="rgb(140,140,140)" stroke-width="2.6"/>
<path d="M487.1 296.9L488.7 298.7L490.5 300.5L492.4 302.0L494.5 303.4L496.8 304.7" stroke="rgb(140,140,140)" stroke-width="2.9"/>
<path d="M461.8 278.9L462.3 279.5L462.8 280.0L463.3 280.6" stroke="rgb(232,232,232)" stroke-width="1.3"/>
<path d="M465.6 283.0L466.0 283.4L466.5 283.8L466.9 284.2" stroke="rgb(219,219,219)" stroke-width="1.0"/>
<path d="M467.4 284.6L468.2 285.2L469.1 285.8L469.9 286.3" stroke="rgb(224,224,224)" stroke-width="2.4"/>
<path d="M470.5 286.7L471.2 287.0L471.8 287.4L472.5 287.7" stroke="rgb(239,239,239)" stroke-width="1.9"/>
<path d="M473.1 288.0L473.7 288.3L474.3 288.6L474.9 288.8" stroke="rgb(218,218,218)" stroke-width="2.3"/>
<path d="M475.6 289.1L476.8 289.7L478.0 290.3L479.2 290.9" stroke="rgb(228,228,228)" stroke-width="1.7"/>
<path d="M479.8 291.3L480.5 291.7L481.2 292.1L481.9 292.6" stroke="rgb(240,240,240)" stroke-width="1.7"/>
<path d="M482.4 293.0L483.5 293.9L484.5 294.8L485.5 295.8" stroke="rgb(252,252,252)" stroke-width="1.9"/>
<path d="M485.9 296.2L486.4 296.7L486.8 297.2L487.2 297.6" stroke="rgb(237,237,237)" stroke-width="1.5"/>
<path d="M487.6 298.1L488.7 299.3L489.9 300.4L491.1 301.5" stroke="rgb(235,235,235)" stroke-width="1.9"/>
<path d="M496.5 304.9L498.1 305.7L498.8 305.8L499.1 305.5" stroke="rgb(239,239,239)" stroke-width="1.3"/>
<path d="M464.5 277.1L466.8 279.2L469.3 281.1L471.9 283.0L474.7 284.8L477.5 286.5" stroke="rgb(140,140,140)" stroke-width="2.5"/>
<path d="M480.2 288.0L482.6 289.3L485.0 290.6L487.4 292.0L489.7 293.3L491.9 294.8" stroke="rgb(140,140,140)" stroke-width="3.1"/>
<path d="M495.0 297.1L496.9 298.6L498.7 300.2L500.5 301.8L501.7 303.1L501.5 303.3" stroke="rgb(140,140,140)" stroke-width="3.3"/>
<path d="M467.9 280.5L468.7 281.1L469.6 281.8L470.5 282.4" stroke="rgb(252,252,252)" stroke-width="1.1"/>
<path d="M471.0 282.8L472.5 283.8L474.0 284.8L475.6 285.7" stroke="rgb(231,231,231)" stroke-width="2.2"/>
<path d="M476.2 286.1L477.9 287.1L479.6 288.1L481.4 289.0" stroke="rgb(228,228,228)" stroke-width="1.9"/>
<path d="M492.3 295.5L492.9 295.9L493.4 296.3L493.9 296.7" stroke="rgb(250,250,250)" stroke-width="2.4"/>
<path d="M494.4 297.1L495.8 298.2L497.1 299.3L498.4 300.4" stroke="rgb(243,243,243)" stroke-width="1.8"/>
<path d="M498.9 300.8L500.0 301.9L501.2 302.9L501.4 303.4" stroke="rgb(248,248,248)" stroke-width="2.1"/>
<path d="M467.8 274.9L470.6 276.3L473.4 277.7L476.0 279.2L478.5 280.9L480.7 282.7" stroke="rgb(140,140,140)" stroke-width="2.9"/>
<path d="M481.7 283.6L484.3 286.1L486.8 288.6L489.5 291.0L492.5 293.1L495.8 295.0" stroke="rgb(140,140,140)" stroke-width="2.6"/>
<path d="M498.5 296.4L499.8 297.1L501.1 297.7L502.4 298.4L503.6 299.1L504.8 299.8" stroke="rgb(140,140,140)" stroke-width="2.4"/>
<path d="M467.5 275.1L468.5 275.5L469.4 276.0L470.4 276.5" stroke="rgb(245,245,245)" stroke-width="1.4"/>
<path d="M471.0 276.8L472.5 277.6L474.0 278.4L475.4 279.2" stroke="rgb(249,249,249)" stroke-width="1.7"/>
<path d="M475.9 279.6L476.9 280.1L477.7 280.7L478.6 281.4" stroke="rgb(222,222,222)" stroke-width="1.0"/>
<path d="M479.1 281.8L479.6 282.2L480.2 282.7L480.7 283.2" stroke="rgb(220,220,220)" stroke-width="2.2"/>
<path d="M481.2 283.6L482.6 284.9L484.0 286.3L485.3 287.7" stroke="rgb(216,216,216)" stroke-width="1.4"/>
<path d="M485.8 288.1L486.8 289.2L488.0 290.2L489.1 291.1" stroke="rgb(209,209,209)" stroke-width="1.8"/>
<path d="M489.6 291.5L490.4 292.1L491.2 292.7L492.0 293.2" stroke="rgb(244,244,244)" stroke-width="1.2"/>
<path d="M492.6 293.6L493.7 294.2L494.8 294.9L495.9 295.5" stroke="rgb(231,231,231)" stroke-width="2.3"/>
<path d="M502.4 298.8L503.5 299.4L504.5 300.0L504.9 300.2" stroke="rgb(217,217,217)" stroke-width="2.5"/>
<path d="M470.5 273.1L471.5 273.9L472.5 274.6L473.5 275.3L474.7 276.0L475.9 276.6" stroke="rgb(140,140,140)" stroke-width="2.6"/>
<path d="M478.7 277.8L482.2 279.4L485.4 281.2L488.1 283.3L490.3 285.8L492.5 288.4" stroke="rgb(140,140,140)" stroke-width="3.3"/>
<path d="M493.7 289.6L496.6 291.9L500.1 293.7L503.7 295.2L507.3 296.9L508.0 297.3" stroke="rgb(140,140,140)" stroke-width="2.9"/>
<path d="M470.2 273.3L470.7 273.7L471.2 274.1L471.8 274.5" stroke="rgb(230,230,230)" stroke-width="1.7"/>
<path d="M475.7 276.8L476.9 277.4L478.2 278.0L479.5 278.5" stroke="rgb(243,243,243)" stroke-width="1.4"/>
<path d="M480.2 278.8L481.4 279.3L482.5 279.9L483.6 280.5" stroke="rgb(216,216,216)" stroke-width="2.5"/>
<path d="M484.2 280.8L485.5 281.6L486.6 282.5L487.7 283.5" stroke="rgb(238,238,238)" stroke-width="2.0"/>
<path d="M488.1 283.9L489.0 284.9L489.9 285.8L490.7 286.8" stroke="rgb(211,211,211)" stroke-width="1.0"/>
<path d="M491.1 287.3L491.6 287.8L492.0 288.4L492.5 288.9" stroke="rgb(204,204,204)" stroke-width="2.0"/>
<path d="M492.9 289.3L493.7 290.1L494.5 290.7L495.3 291.4" stroke="rgb(219,219,219)" stroke-width="1.7"/>
<path d="M498.7 293.4L500.0 294.0L501.3 294.6L502.6 295.1" stroke="rgb(208,208,208)" stroke-width="2.3"/>
<path d="M503.2 295.4L504.6 296.0L506.0 296.6L507.3 297.3" stroke="rgb(240,240,240)" stroke-width="1.1"/>
<path d="M473.7 270.9L475.0 271.6L476.4 272.2L477.8 272.8L479.2 273.4L480.5 273.9" stroke="rgb(140,140,140)" stroke-width="2.7"/>
<path d="M484.3 275.8L486.6 277.4L488.5 279.1L490.2 281.0L491.8 283.0L493.5 285.0" stroke="rgb(140,140,140)" stroke-width="2.5"/>
<path d="M494.9 286.3L496.0 287.2L497.1 288.0L498.4 288.7L499.7 289.4L501.0 290.0" stroke="rgb(140,140,140)" stroke-width="2.8"/>
<path d="M502.8 290.7L505.2 291.7L507.5 292.7L509.6 293.8L510.8 294.7L510.6 294.9" stroke="rgb(140,140,140)" stroke-width="3.3"/>
<path d="M473.4 271.1L474.6 271.8L475.9 272.3L477.2 272.9" stroke="rgb(210,210,210)" stroke-width="2.4"/>
<path d="M477.9 273.2L479.8 274.0L481.6 274.8L483.4 275.7" stroke="rgb(249,249,249)" stroke-width="1.4"/>
<path d="M483.9 276.0L485.6 277.1L487.2 278.4L488.5 279.7" stroke="rgb(251,251,251)" stroke-width="2.3"/>
<path d="M488.9 280.2L490.1 281.6L491.3 283.0L492.5 284.5" stroke="rgb(207,207,207)" stroke-width="1.4"/>
<path d="M496.9 288.2L498.3 289.0L499.8 289.8L501.3 290.5" stroke="rgb(221,221,221)" stroke-width="1.5"/>
<path d="M501.9 290.7L502.7 291.0L503.6 291.4L504.4 291.7" stroke="rgb(230,230,230)" stroke-width="1.6"/>
<path d="M505.0 292.0L505.9 292.4L506.8 292.8L507.7 293.2" stroke="rgb(252,252,252)" stroke-width="1.9"/>
<path d="M477.8 268.2L479.5 269.0L481.1 269.8L482.6 270.6L484.2 271.5L485.6 272.4" stroke="rgb(140,140,140)" stroke-width="3.1"/>
<path d="M488.7 274.4L490.7 276.1L492.7 277.8L494.6 279.6L496.4 281.5L498.3 283.3" stroke="rgb(140,140,140)" stroke-width="2.8"/>
<path d="M500.8 285.7L502.5 287.2L504.2 288.5L506.1 289.8L508.0 291.1L510.0 292.2" stroke="rgb(140,140,140)" stroke-width="2.4"/>
<path d="M477.5 268.4L478.2 268.7L478.9 269.0L479.6 269.4" stroke="rgb(252,252,252)" stroke-width="2.4"/>
<path d="M480.1 269.7L481.1 270.2L482.1 270.7L483.1 271.3" stroke="rgb(218,218,218)" stroke-width="2.2"/>
<path d="M483.6 271.6L484.8 272.2L485.8 272.9L486.9 273.6" stroke="rgb(249,249,249)" stroke-width="2.4"/>
<path d="M487.4 274.0L487.9 274.3L488.4 274.7L488.9 275.0" stroke="rgb(215,215,215)" stroke-width="2.0"/>
<path d="M489.3 275.4L490.2 276.1L491.0 276.7L491.7 277.4" stroke="rgb(219,219,219)" stroke-width="1.9"/>
<path d="M492.2 277.8L493.1 278.7L494.0 279.5L494.9 280.4" stroke="rgb(238,238,238)" stroke-width="1.7"/>
<path d="M495.3 280.8L496.6 282.1L497.9 283.5L499.3 284.8" stroke="rgb(244,244,244)" stroke-width="2.4"/>
<path d="M499.7 285.2L500.8 286.2L501.8 287.1L503.0 288.0" stroke="rgb(244,244,244)" stroke-width="2.1"/>
<path d="M503.4 288.4L504.1 288.9L504.8 289.4L505.5 289.8" stroke="rgb(212,212,212)" stroke-width="1.0"/>
<path d="M506.0 290.2L507.3 291.0L508.7 291.9L510.1 292.7" stroke="rgb(216,216,216)" stroke-width="1.0"/>
<path d="M510.6 293.0L511.2 293.2L511.7 293.5L512.0 293.6" stroke="rgb(222,222,222)" stroke-width="1.7"/>
<ellipse cx="499.9" cy="294.3" rx="2.1" ry="1.6" transform="rotate(36 499.9 294.3)" fill="rgb(245,245,245)"/>
<ellipse cx="480.9" cy="295.5" rx="2.2" ry="1.6" transform="rotate(36 480.9 295.5)" fill="rgb(244,244,244)"/>
<ellipse cx="493.0" cy="291.4" rx="3.0" ry="1.2" transform="rotate(36 493.0 291.4)" fill="rgb(228,228,228)"/>
<ellipse cx="494.0" cy="291.8" rx="2.2" ry="1.3" transform="rotate(36 494.0 291.8)" fill="rgb(234,234,234)"/>
<ellipse cx="498.7" cy="284.4" rx="2.6" ry="1.4" transform="rotate(36 498.7 284.4)" fill="rgb(238,238,238)"/>
<ellipse cx="467.5" cy="283.5" rx="2.6" ry="1.4" transform="rotate(36 467.5 283.5)" fill="rgb(227,227,227)"/>
<ellipse cx="497.7" cy="283.7" rx="3.2" ry="1.3" transform="rotate(36 497.7 283.7)" fill="rgb(250,250,250)"/>
<ellipse cx="482.4" cy="289.4" rx="2.9" ry="1.4" transform="rotate(36 482.4 289.4)" fill="rgb(235,235,235)"/>
<ellipse cx="490.9" cy="304.4" rx="2.9" ry="1.4" transform="rotate(36 490.9 304.4)" fill="rgb(240,240,240)"/>
<ellipse cx="488.8" cy="289.0" rx="2.0" ry="1.5" transform="rotate(36 488.8 289.0)" fill="rgb(227,227,227)"/>
<ellipse cx="470.9" cy="283.3" rx="2.9" ry="1.5" transform="rotate(36 470.9 283.3)" fill="rgb(249,249,249)"/>
<ellipse cx="471.8" cy="282.8" rx="2.1" ry="1.4" transform="rotate(36 471.8 282.8)" fill="rgb(247,247,247)"/>
<ellipse cx="482.3" cy="281.1" rx="2.7" ry="1.5" transform="rotate(36 482.3 281.1)" fill="rgb(224,224,224)"/>
<ellipse cx="500.5" cy="297.3" rx="2.9" ry="1.3" transform="rotate(36 500.5 297.3)" fill="rgb(231,231,231)"/>
</g></g>
<clipPath id="cp10"><path d="M265.9 336.3L293.4 319.3L322.4 342.0L303.1 362.5z"/></clipPath>
<g filter="url(#bl)"><g clip-path="url(#cp10)" fill="none" stroke-linecap="round" stroke-linejoin="round">
<path d="M265.9 336.3L293.4 319.3L322.4 342.0L303.1 362.5z" fill="rgb(38,38,38)"/>
<path d="M266.3 334.6L268.3 336.4L270.5 338.2L272.7 339.8L275.1 341.5L277.5 343.0" stroke="rgb(58,58,58)" stroke-width="2.9"/>
<path d="M281.7 345.4L284.4 346.9L287.0 348.5L289.6 350.0L292.1 351.7L294.6 353.4" stroke="rgb(58,58,58)" stroke-width="2.8"/>
<path d="M297.4 355.6L299.7 357.6L302.0 359.5L304.2 361.5L305.0 362.4L304.9 362.5" stroke="rgb(58,58,58)" stroke-width="2.7"/>
<path d="M265.9 334.8L267.2 335.9L268.5 337.0L269.8 338.1" stroke="rgb(77,77,77)" stroke-width="1.3"/>
<path d="M278.7 344.1L280.5 345.1L282.2 346.1L284.0 347.1" stroke="rgb(89,89,89)" stroke-width="2.1"/>
<path d="M289.8 350.5L291.5 351.6L293.2 352.8L294.9 354.0" stroke="rgb(95,95,95)" stroke-width="2.3"/>
<path d="M295.4 354.4L297.0 355.7L298.5 357.0L300.1 358.3" stroke="rgb(105,105,105)" stroke-width="1.8"/>
<path d="M300.6 358.8L302.1 360.2L303.7 361.6L304.9 362.6" stroke="rgb(100,100,100)" stroke-width="2.0"/>
<path d="M269.8 332.5L271.3 333.3L272.9 334.1L274.4 335.0L275.9 335.8L277.3 336.7" stroke="rgb(58,58,58)" stroke-width="3.0"/>
<path d="M278.6 337.6L281.5 339.6L284.2 341.8L286.7 344.2L289.2 346.5L291.9 348.8" stroke="rgb(58,58,58)" stroke-width="2.4"/>
<path d="M293.4 350.1L296.5 352.3L299.8 354.3L303.3 356.2L306.7 358.1L308.3 358.9" stroke="rgb(58,58,58)" stroke-width="2.8"/>
<path d="M269.4 332.7L270.5 333.3L271.6 333.8L272.6 334.4" stroke="rgb(89,89,89)" stroke-width="2.5"/>
<path d="M297.7 353.5L298.5 353.9L299.2 354.3L299.9 354.8" stroke="rgb(99,99,99)" stroke-width="1.1"/>
<path d="M300.5 355.1L301.0 355.4L301.6 355.7L302.1 356.0" stroke="rgb(85,85,85)" stroke-width="1.7"/>
<path d="M305.2 357.7L306.7 358.5L308.0 359.2L308.0 359.1" stroke="rgb(97,97,97)" stroke-width="1.8"/>
<path d="M272.5 330.8L274.9 332.3L277.4 333.7L280.1 335.0L282.7 336.3L285.3 337.7" stroke="rgb(58,58,58)" stroke-width="3.2"/>
<path d="M286.6 338.6L287.9 339.5L289.1 340.5L290.3 341.5L291.4 342.5L292.4 343.6" stroke="rgb(58,58,58)" stroke-width="3.2"/>
<path d="M295.2 346.6L296.1 347.5L297.0 348.3L298.0 349.2L299.0 350.0L300.1 350.7" stroke="rgb(58,58,58)" stroke-width="3.3"/>
<path d="M303.1 352.5L306.3 354.1L309.6 355.7L310.8 356.2L310.8 356.2L310.5 356.5" stroke="rgb(58,58,58)" stroke-width="3.0"/>
<path d="M280.2 335.4L281.1 335.9L282.1 336.4L283.0 336.9" stroke="rgb(109,109,109)" stroke-width="1.7"/>
<path d="M286.6 339.0L288.3 340.2L289.8 341.5L291.3 343.0" stroke="rgb(83,83,83)" stroke-width="2.1"/>
<path d="M294.5 346.4L295.6 347.5L296.8 348.6L298.1 349.7" stroke="rgb(97,97,97)" stroke-width="1.3"/>
<path d="M308.3 355.5L309.2 355.9L310.1 356.4L310.5 356.5" stroke="rgb(80,80,80)" stroke-width="1.5"/>
<path d="M276.6 328.3L280.2 330.1L283.6 332.0L286.5 334.2L289.0 336.7L291.5 339.3" stroke="rgb(58,58,58)" stroke-width="3.0"/>
<path d="M292.8 340.6L294.5 342.1L296.5 343.4L298.5 344.6L300.7 345.8L302.9 346.8" stroke="rgb(58,58,58)" stroke-width="2.4"/>
<path d="M304.8 347.9L306.6 349.0L308.3 350.2L309.9 351.5L311.4 352.9L312.6 354.3" stroke="rgb(58,58,58)" stroke-width="2.4"/>
<path d="M276.3 328.5L277.6 329.2L278.9 329.8L280.2 330.5" stroke="rgb(85,85,85)" stroke-width="1.2"/>
<path d="M279.6 326.5L281.1 327.6L282.6 328.8L284.1 329.9L285.7 330.9L287.3 332.0" stroke="rgb(58,58,58)" stroke-width="2.7"/>
<path d="M289.5 333.3L291.8 334.7L294.2 336.1L296.6 337.5L298.8 338.9L301.1 340.4" stroke="rgb(58,58,58)" stroke-width="2.2"/>
<path d="M303.3 342.0L306.0 344.0L308.5 346.2L311.0 348.4L313.5 350.7L314.6 352.0" stroke="rgb(58,58,58)" stroke-width="3.3"/>
<path d="M298.9 339.3L300.1 340.1L301.3 340.9L302.5 341.8" stroke="rgb(100,100,100)" stroke-width="1.7"/>
<path d="M312.8 350.6L313.3 351.0L313.7 351.4L314.2 351.8" stroke="rgb(88,88,88)" stroke-width="2.2"/>
<path d="M283.7 324.0L285.0 325.2L286.2 326.3L287.6 327.5L288.9 328.6L290.3 329.7" stroke="rgb(58,58,58)" stroke-width="2.4"/>
<path d="M291.6 330.7L294.1 332.4L296.6 334.1L299.2 335.7L301.8 337.3L304.4 338.8" stroke="rgb(58,58,58)" stroke-width="2.4"/>
<path d="M305.9 339.8L308.1 341.3L310.2 342.8L312.3 344.5L314.3 346.2L316.3 347.9" stroke="rgb(58,58,58)" stroke-width="2.4"/>
<path d="M293.9 332.8L294.8 333.4L295.8 334.0L296.7 334.6" stroke="rgb(109,109,109)" stroke-width="1.7"/>
<path d="M302.2 337.9L302.8 338.3L303.4 338.6L303.9 339.0" stroke="rgb(97,97,97)" stroke-width="2.2"/>
<path d="M304.4 339.3L305.2 339.8L305.9 340.2L306.7 340.7" stroke="rgb(89,89,89)" stroke-width="1.7"/>
<path d="M310.4 343.4L311.5 344.3L312.6 345.1L313.7 346.0" stroke="rgb(88,88,88)" stroke-width="1.8"/>
<path d="M314.1 346.4L314.7 346.9L315.2 347.4L315.8 347.9" stroke="rgb(78,78,78)" stroke-width="2.0"/>
<path d="M287.0 322.0L288.6 323.7L290.4 325.2L292.4 326.7L294.5 328.1L296.8 329.3" stroke="rgb(58,58,58)" stroke-width="2.4"/>
<path d="M299.4 330.7L301.5 331.9L303.5 333.2L305.4 334.5L307.1 336.0L308.7 337.6" stroke="rgb(58,58,58)" stroke-width="2.4"/>
<path d="M310.4 339.4L312.5 341.6L314.7 343.7L317.2 345.6L319.3 346.9L319.7 346.6" stroke="rgb(58,58,58)" stroke-width="3.0"/>
<path d="M288.8 324.3L289.8 325.2L290.8 326.0L291.8 326.8" stroke="rgb(93,93,93)" stroke-width="1.6"/>
<path d="M304.0 333.9L304.7 334.4L305.4 335.0L306.0 335.5" stroke="rgb(109,109,109)" stroke-width="1.2"/>
<path d="M306.5 335.9L307.5 336.9L308.5 337.9L309.5 339.0" stroke="rgb(94,94,94)" stroke-width="1.7"/>
<path d="M309.9 339.4L310.5 340.0L311.0 340.6L311.6 341.2" stroke="rgb(110,110,110)" stroke-width="1.1"/>
<path d="M314.0 343.5L314.7 344.2L315.6 344.8L316.4 345.5" stroke="rgb(104,104,104)" stroke-width="2.5"/>
<path d="M291.8 319.1L293.5 321.4L295.2 323.8L297.2 326.1L299.6 328.1L302.4 329.8" stroke="rgb(58,58,58)" stroke-width="3.0"/>
<path d="M304.0 330.5L306.1 331.4L308.2 332.4L310.2 333.4L312.0 334.5L313.6 335.8" stroke="rgb(58,58,58)" stroke-width="3.0"/>
<path d="M314.7 336.9L315.5 337.9L316.3 338.9L317.1 340.0L317.9 341.1L318.7 342.1" stroke="rgb(58,58,58)" stroke-width="3.4"/>
<path d="M291.4 319.3L292.3 320.3L293.0 321.4L293.8 322.4" stroke="rgb(101,101,101)" stroke-width="2.5"/>
<path d="M306.3 331.8L306.9 332.1L307.5 332.4L308.1 332.6" stroke="rgb(110,110,110)" stroke-width="2.1"/>
<path d="M308.6 332.9L310.3 333.8L311.8 334.8L313.1 335.9" stroke="rgb(80,80,80)" stroke-width="2.0"/>
<ellipse cx="294.2" cy="341.1" rx="1.1" ry="0.6" transform="rotate(36 294.2 341.1)" fill="rgb(90,90,90)"/>
<ellipse cx="291.1" cy="342.5" rx="1.3" ry="0.6" transform="rotate(36 291.1 342.5)" fill="rgb(110,110,110)"/>
<ellipse cx="293.8" cy="351.3" rx="1.0" ry="0.6" transform="rotate(36 293.8 351.3)" fill="rgb(105,105,105)"/>
<ellipse cx="318.5" cy="342.9" rx="1.2" ry="0.6" transform="rotate(36 318.5 342.9)" fill="rgb(79,79,79)"/>
<ellipse cx="292.3" cy="341.4" rx="1.4" ry="0.6" transform="rotate(36 292.3 341.4)" fill="rgb(96,96,96)"/>
<ellipse cx="311.7" cy="346.9" rx="1.3" ry="0.6" transform="rotate(36 311.7 346.9)" fill="rgb(85,85,85)"/>
<ellipse cx="282.9" cy="334.2" rx="1.2" ry="0.6" transform="rotate(36 282.9 334.2)" fill="rgb(105,105,105)"/>
<ellipse cx="303.7" cy="355.2" rx="1.2" ry="0.6" transform="rotate(36 303.7 355.2)" fill="rgb(94,94,94)"/>
<ellipse cx="302.5" cy="327.0" rx="1.1" ry="0.6" transform="rotate(36 302.5 327.0)" fill="rgb(95,95,95)"/>
<ellipse cx="292.4" cy="344.9" rx="1.3" ry="0.6" transform="rotate(36 292.4 344.9)" fill="rgb(110,110,110)"/>
<ellipse cx="297.1" cy="349.1" rx="1.0" ry="0.6" transform="rotate(36 297.1 349.1)" fill="rgb(98,98,98)"/>
<ellipse cx="296.3" cy="333.9" rx="1.0" ry="0.6" transform="rotate(36 296.3 333.9)" fill="rgb(104,104,104)"/>
<ellipse cx="297.6" cy="329.2" rx="1.0" ry="0.6" transform="rotate(36 297.6 329.2)" fill="rgb(82,82,82)"/>
<ellipse cx="301.0" cy="356.7" rx="1.0" ry="0.6" transform="rotate(36 301.0 356.7)" fill="rgb(112,112,112)"/>
<ellipse cx="303.6" cy="354.6" rx="0.9" ry="0.6" transform="rotate(36 303.6 354.6)" fill="rgb(106,106,106)"/>
<ellipse cx="291.6" cy="343.6" rx="0.9" ry="0.6" transform="rotate(36 291.6 343.6)" fill="rgb(81,81,81)"/>
<ellipse cx="280.9" cy="332.5" rx="1.2" ry="0.6" transform="rotate(36 280.9 332.5)" fill="rgb(81,81,81)"/>
<ellipse cx="306.0" cy="354.2" rx="1.2" ry="0.6" transform="rotate(36 306.0 354.2)" fill="rgb(110,110,110)"/>
<ellipse cx="300.0" cy="350.8" rx="1.4" ry="0.6" transform="rotate(36 300.0 350.8)" fill="rgb(88,88,88)"/>
<ellipse cx="300.9" cy="346.2" rx="1.3" ry="0.6" transform="rotate(36 300.9 346.2)" fill="rgb(103,103,103)"/>
<ellipse cx="297.2" cy="331.6" rx="1.0" ry="0.6" transform="rotate(36 297.2 331.6)" fill="rgb(81,81,81)"/>
<ellipse cx="293.3" cy="320.8" rx="0.9" ry="0.6" transform="rotate(36 293.3 320.8)" fill="rgb(86,86,86)"/>
<ellipse cx="307.3" cy="350.3" rx="0.8" ry="0.6" transform="rotate(36 307.3 350.3)" fill="rgb(82,82,82)"/>
<ellipse cx="279.0" cy="344.9" rx="1.1" ry="0.6" transform="rotate(36 279.0 344.9)" fill="rgb(102,102,102)"/>
<ellipse cx="300.0" cy="337.6" rx="1.0" ry="0.6" transform="rotate(36 300.0 337.6)" fill="rgb(89,89,89)"/>
<ellipse cx="302.1" cy="360.4" rx="0.8" ry="0.6" transform="rotate(36 302.1 360.4)" fill="rgb(102,102,102)"/>
<ellipse cx="299.3" cy="352.8" rx="1.3" ry="0.6" transform="rotate(36 299.3 352.8)" fill="rgb(94,94,94)"/>
<ellipse cx="291.1" cy="327.0" rx="0.9" ry="0.6" transform="rotate(36 291.1 327.0)" fill="rgb(105,105,105)"/>
<ellipse cx="296.7" cy="353.2" rx="0.9" ry="0.6" transform="rotate(36 296.7 353.2)" fill="rgb(105,105,105)"/>
<ellipse cx="301.5" cy="348.0" rx="1.1" ry="0.6" transform="rotate(36 301.5 348.0)" fill="rgb(87,87,87)"/>
<ellipse cx="297.0" cy="322.4" rx="1.4" ry="0.6" transform="rotate(36 297.0 322.4)" fill="rgb(110,110,110)"/>
<ellipse cx="300.4" cy="324.9" rx="1.1" ry="0.6" transform="rotate(36 300.4 324.9)" fill="rgb(83,83,83)"/>
<ellipse cx="303.7" cy="357.1" rx="1.4" ry="0.6" transform="rotate(36 303.7 357.1)" fill="rgb(96,96,96)"/>
<ellipse cx="296.0" cy="340.2" rx="0.8" ry="0.6" transform="rotate(36 296.0 340.2)" fill="rgb(110,110,110)"/>
<ellipse cx="302.4" cy="354.2" rx="1.3" ry="0.6" transform="rotate(36 302.4 354.2)" fill="rgb(97,97,97)"/>
<ellipse cx="315.7" cy="336.9" rx="1.3" ry="0.6" transform="rotate(36 315.7 336.9)" fill="rgb(98,98,98)"/>
<ellipse cx="287.7" cy="332.6" rx="1.4" ry="0.6" transform="rotate(36 287.7 332.6)" fill="rgb(88,88,88)"/>
<ellipse cx="281.4" cy="328.1" rx="1.5" ry="0.6" transform="rotate(36 281.4 328.1)" fill="rgb(99,99,99)"/>
<ellipse cx="298.9" cy="337.5" rx="1.2" ry="0.6" transform="rotate(36 298.9 337.5)" fill="rgb(92,92,92)"/>
<ellipse cx="298.5" cy="337.6" rx="1.4" ry="0.6" transform="rotate(36 298.5 337.6)" fill="rgb(108,108,108)"/>
<ellipse cx="309.7" cy="340.0" rx="0.9" ry="0.6" transform="rotate(36 309.7 340.0)" fill="rgb(102,102,102)"/>
<ellipse cx="288.2" cy="334.5" rx="1.5" ry="0.6" transform="rotate(36 288.2 334.5)" fill="rgb(83,83,83)"/>
<ellipse cx="301.0" cy="353.1" rx="1.0" ry="0.6" transform="rotate(36 301.0 353.1)" fill="rgb(106,106,106)"/>
<ellipse cx="273.1" cy="340.5" rx="1.3" ry="0.6" transform="rotate(36 273.1 340.5)" fill="rgb(99,99,99)"/>
<ellipse cx="296.2" cy="345.2" rx="1.2" ry="0.6" transform="rotate(36 296.2 345.2)" fill="rgb(82,82,82)"/>
<ellipse cx="311.5" cy="341.4" rx="1.2" ry="0.6" transform="rotate(36 311.5 341.4)" fill="rgb(96,96,96)"/>
<ellipse cx="275.9" cy="343.2" rx="0.8" ry="0.6" transform="rotate(36 275.9 343.2)" fill="rgb(91,91,91)"/>
<ellipse cx="303.0" cy="359.9" rx="1.1" ry="0.6" transform="rotate(36 303.0 359.9)" fill="rgb(100,100,100)"/>
<ellipse cx="312.3" cy="345.2" rx="1.0" ry="0.6" transform="rotate(36 312.3 345.2)" fill="rgb(99,99,99)"/>
<ellipse cx="309.7" cy="353.7" rx="0.8" ry="0.6" transform="rotate(36 309.7 353.7)" fill="rgb(110,110,110)"/>
<ellipse cx="308.0" cy="337.4" rx="1.3" ry="0.6" transform="rotate(36 308.0 337.4)" fill="rgb(88,88,88)"/>
<ellipse cx="299.5" cy="350.4" rx="1.2" ry="0.6" transform="rotate(36 299.5 350.4)" fill="rgb(96,96,96)"/>
<ellipse cx="300.6" cy="358.8" rx="1.3" ry="0.6" transform="rotate(36 300.6 358.8)" fill="rgb(110,110,110)"/>
<ellipse cx="299.1" cy="349.5" rx="1.1" ry="0.6" transform="rotate(36 299.1 349.5)" fill="rgb(80,80,80)"/>
<ellipse cx="291.6" cy="342.2" rx="0.8" ry="0.6" transform="rotate(36 291.6 342.2)" fill="rgb(86,86,86)"/>
<ellipse cx="285.9" cy="334.8" rx="1.0" ry="0.6" transform="rotate(36 285.9 334.8)" fill="rgb(82,82,82)"/>
<ellipse cx="270.1" cy="334.8" rx="0.7" ry="0.6" transform="rotate(36 270.1 334.8)" fill="rgb(111,111,111)"/>
<ellipse cx="303.0" cy="330.8" rx="1.0" ry="0.6" transform="rotate(36 303.0 330.8)" fill="rgb(80,80,80)"/>
<ellipse cx="281.7" cy="329.0" rx="0.7" ry="0.6" transform="rotate(36 281.7 329.0)" fill="rgb(95,95,95)"/>
<ellipse cx="298.8" cy="349.1" rx="0.8" ry="0.6" transform="rotate(36 298.8 349.1)" fill="rgb(106,106,106)"/>
<ellipse cx="309.2" cy="352.9" rx="0.8" ry="0.6" transform="rotate(36 309.2 352.9)" fill="rgb(87,87,87)"/>
<ellipse cx="303.1" cy="354.0" rx="1.2" ry="0.6" transform="rotate(36 303.1 354.0)" fill="rgb(88,88,88)"/>
<ellipse cx="310.0" cy="334.6" rx="1.1" ry="0.6" transform="rotate(36 310.0 334.6)" fill="rgb(83,83,83)"/>
<ellipse cx="291.4" cy="342.8" rx="1.5" ry="0.6" transform="rotate(36 291.4 342.8)" fill="rgb(98,98,98)"/>
<ellipse cx="300.9" cy="336.7" rx="1.1" ry="0.6" transform="rotate(36 300.9 336.7)" fill="rgb(105,105,105)"/>
<ellipse cx="295.1" cy="350.1" rx="0.9" ry="0.6" transform="rotate(36 295.1 350.1)" fill="rgb(86,86,86)"/>
<ellipse cx="293.1" cy="341.7" rx="1.0" ry="0.6" transform="rotate(36 293.1 341.7)" fill="rgb(77,77,77)"/>
<ellipse cx="307.3" cy="331.6" rx="1.1" ry="0.6" transform="rotate(36 307.3 331.6)" fill="rgb(89,89,89)"/>
<ellipse cx="300.9" cy="336.4" rx="1.2" ry="0.6" transform="rotate(36 300.9 336.4)" fill="rgb(90,90,90)"/>
<ellipse cx="297.3" cy="348.8" rx="1.3" ry="0.6" transform="rotate(36 297.3 348.8)" fill="rgb(91,91,91)"/>
<ellipse cx="282.6" cy="333.8" rx="1.9" ry="1.2" transform="rotate(30 282.6 333.8)" fill="rgb(204,204,204)" opacity="0.45"/>
<ellipse cx="282.6" cy="333.8" rx="1.3" ry="0.8" transform="rotate(30 282.6 333.8)" fill="rgb(204,204,204)"/>
<ellipse cx="293.0" cy="337.6" rx="1.6" ry="1.1" transform="rotate(30 293.0 337.6)" fill="rgb(153,153,153)" opacity="0.45"/>
<ellipse cx="293.0" cy="337.6" rx="1.1" ry="0.7" transform="rotate(30 293.0 337.6)" fill="rgb(153,153,153)"/>
<ellipse cx="296.7" cy="341.3" rx="1.6" ry="1.1" transform="rotate(30 296.7 341.3)" fill="rgb(140,140,140)" opacity="0.45"/>
<ellipse cx="296.7" cy="341.3" rx="1.1" ry="0.7" transform="rotate(30 296.7 341.3)" fill="rgb(140,140,140)"/>
</g></g>
<clipPath id="cp11"><path d="M329.0 336.3L356.5 319.3L385.5 342.0L366.2 362.5z"/></clipPath>
<g filter="url(#bl)"><g clip-path="url(#cp11)" fill="none" stroke-linecap="round" stroke-linejoin="round">
<path d="M329.0 336.3L356.5 319.3L385.5 342.0L366.2 362.5z" fill="rgb(51,51,51)"/>
<path d="M330.5 333.9L332.5 335.6L334.4 337.3L336.2 339.0L338.0 340.8L339.9 342.5" stroke="rgb(107,107,107)" stroke-width="2.8"/>
<path d="M340.9 343.4L342.2 344.5L343.5 345.5L344.9 346.5L346.3 347.5L347.7 348.5" stroke="rgb(107,107,107)" stroke-width="2.8"/>
<path d="M351.3 350.6L354.6 352.4L357.8 354.1L361.0 355.8L364.1 357.7L367.0 359.7" stroke="rgb(107,107,107)" stroke-width="3.2"/>
<path d="M330.2 334.1L331.8 335.5L333.4 336.9L334.9 338.3" stroke="rgb(151,151,151)" stroke-width="1.2"/>
<path d="M335.4 338.8L336.7 340.0L338.0 341.3L339.4 342.5" stroke="rgb(164,164,164)" stroke-width="1.2"/>
<path d="M339.9 343.0L341.4 344.3L343.1 345.6L344.7 346.9" stroke="rgb(158,158,158)" stroke-width="1.9"/>
<path d="M345.3 347.3L346.8 348.3L348.3 349.2L349.9 350.1" stroke="rgb(184,184,184)" stroke-width="1.8"/>
<path d="M350.5 350.5L351.8 351.3L353.2 352.0L354.6 352.8" stroke="rgb(201,201,201)" stroke-width="2.2"/>
<path d="M355.2 353.1L357.1 354.1L358.9 355.1L360.8 356.1" stroke="rgb(143,143,143)" stroke-width="1.7"/>
<path d="M332.4 332.7L334.8 334.6L337.3 336.3L340.1 337.8L343.0 339.2L345.8 340.7" stroke="rgb(107,107,107)" stroke-width="2.5"/>
<path d="M349.5 343.1L351.5 344.7L353.3 346.3L355.1 348.1L356.9 349.8L358.7 351.5" stroke="rgb(107,107,107)" stroke-width="2.8"/>
<path d="M360.3 352.8L363.2 354.8L366.4 356.5L369.6 358.2L371.3 358.9L371.4 358.8" stroke="rgb(107,107,107)" stroke-width="2.8"/>
<path d="M332.1 332.9L333.6 334.1L335.2 335.3L336.8 336.4" stroke="rgb(185,185,185)" stroke-width="1.7"/>
<path d="M340.8 338.5L342.8 339.5L344.7 340.5L346.6 341.6" stroke="rgb(142,142,142)" stroke-width="1.7"/>
<path d="M347.2 341.9L347.8 342.3L348.4 342.7L349.0 343.1" stroke="rgb(166,166,166)" stroke-width="1.4"/>
<path d="M349.5 343.5L350.9 344.6L352.2 345.8L353.5 347.0" stroke="rgb(210,210,210)" stroke-width="1.3"/>
<path d="M356.9 350.4L358.3 351.6L359.7 352.8L361.2 353.9" stroke="rgb(154,154,154)" stroke-width="1.6"/>
<path d="M335.7 330.7L338.8 332.6L342.0 334.3L345.3 336.0L348.3 337.8L351.2 339.7" stroke="rgb(107,107,107)" stroke-width="3.1"/>
<path d="M353.2 341.4L354.4 342.5L355.6 343.7L356.9 344.9L358.1 346.2L359.3 347.4" stroke="rgb(107,107,107)" stroke-width="3.1"/>
<path d="M361.0 348.9L362.5 350.1L364.1 351.3L365.8 352.4L367.5 353.4L369.3 354.4" stroke="rgb(107,107,107)" stroke-width="2.5"/>
<path d="M340.3 333.8L341.8 334.5L343.2 335.3L344.6 336.0" stroke="rgb(207,207,207)" stroke-width="1.2"/>
<path d="M349.7 339.1L350.6 339.7L351.4 340.4L352.2 341.1" stroke="rgb(148,148,148)" stroke-width="1.0"/>
<path d="M352.7 341.5L354.0 342.6L355.2 343.8L356.3 344.9" stroke="rgb(203,203,203)" stroke-width="2.3"/>
<path d="M356.8 345.4L357.2 345.8L357.6 346.2L358.1 346.6" stroke="rgb(160,160,160)" stroke-width="1.4"/>
<path d="M358.5 347.1L358.9 347.5L359.4 347.9L359.8 348.3" stroke="rgb(166,166,166)" stroke-width="1.7"/>
<path d="M364.2 351.7L364.8 352.1L365.4 352.5L366.1 352.9" stroke="rgb(209,209,209)" stroke-width="1.4"/>
<path d="M366.6 353.3L367.9 354.0L369.2 354.7L370.5 355.4" stroke="rgb(208,208,208)" stroke-width="2.4"/>
<path d="M371.1 355.7L372.4 356.4L373.3 356.8L373.5 356.7" stroke="rgb(168,168,168)" stroke-width="2.1"/>
<path d="M339.9 328.2L340.8 329.1L341.8 330.1L342.8 331.0L343.9 331.9L345.0 332.7" stroke="rgb(107,107,107)" stroke-width="2.7"/>
<path d="M348.3 335.1L350.3 336.3L352.3 337.4L354.3 338.6L356.3 339.7L358.3 340.9" stroke="rgb(107,107,107)" stroke-width="2.8"/>
<path d="M359.9 341.8L362.4 343.6L364.7 345.4L367.0 347.4L369.1 349.4L371.3 351.5" stroke="rgb(107,107,107)" stroke-width="2.7"/>
<path d="M373.2 353.2L375.1 354.8L375.2 354.8L375.3 354.6L375.6 354.3L375.9 354.0" stroke="rgb(107,107,107)" stroke-width="2.6"/>
<path d="M343.3 331.8L343.8 332.2L344.3 332.6L344.8 333.0" stroke="rgb(208,208,208)" stroke-width="1.8"/>
<path d="M345.3 333.4L346.2 334.1L347.2 334.8L348.2 335.4" stroke="rgb(162,162,162)" stroke-width="1.9"/>
<path d="M354.7 339.2L356.5 340.2L358.3 341.3L360.1 342.4" stroke="rgb(145,145,145)" stroke-width="1.5"/>
<path d="M360.6 342.7L361.5 343.4L362.4 344.0L363.3 344.7" stroke="rgb(146,146,146)" stroke-width="2.4"/>
<path d="M363.8 345.1L365.3 346.3L366.7 347.6L368.0 348.9" stroke="rgb(146,146,146)" stroke-width="2.5"/>
<path d="M368.5 349.3L369.1 349.9L369.7 350.4L370.2 351.0" stroke="rgb(157,157,157)" stroke-width="1.3"/>
<path d="M370.7 351.4L371.1 351.8L371.6 352.2L372.0 352.6" stroke="rgb(199,199,199)" stroke-width="1.1"/>
<path d="M372.5 353.0L373.5 353.9L374.5 354.7L374.9 355.1" stroke="rgb(200,200,200)" stroke-width="2.4"/>
<path d="M342.7 326.5L345.4 328.1L348.1 329.6L350.9 331.2L353.6 332.7L356.1 334.3" stroke="rgb(107,107,107)" stroke-width="2.3"/>
<path d="M359.2 336.5L360.7 337.7L362.1 338.9L363.6 340.2L364.9 341.5L366.3 342.8" stroke="rgb(107,107,107)" stroke-width="3.3"/>
<path d="M367.8 344.3L370.0 346.4L372.2 348.4L374.5 350.3L377.0 352.0L377.6 352.2" stroke="rgb(107,107,107)" stroke-width="2.8"/>
<path d="M342.4 326.7L343.5 327.4L344.7 328.1L345.9 328.7" stroke="rgb(152,152,152)" stroke-width="1.8"/>
<path d="M354.1 333.4L354.8 333.9L355.5 334.3L356.2 334.8" stroke="rgb(158,158,158)" stroke-width="2.2"/>
<path d="M356.7 335.1L357.4 335.6L358.1 336.1L358.8 336.6" stroke="rgb(145,145,145)" stroke-width="1.4"/>
<path d="M359.2 337.0L360.3 337.8L361.3 338.6L362.3 339.5" stroke="rgb(149,149,149)" stroke-width="2.3"/>
<path d="M362.7 339.9L363.4 340.6L364.2 341.2L364.9 341.9" stroke="rgb(170,170,170)" stroke-width="2.3"/>
<path d="M369.2 346.2L370.2 347.1L371.2 348.0L372.3 348.9" stroke="rgb(178,178,178)" stroke-width="1.1"/>
<path d="M346.2 324.4L349.3 325.9L352.4 327.3L355.3 328.8L357.8 330.6L360.0 332.7" stroke="rgb(107,107,107)" stroke-width="2.5"/>
<path d="M361.8 334.9L362.7 336.1L363.7 337.3L364.7 338.4L365.8 339.5L367.0 340.5" stroke="rgb(107,107,107)" stroke-width="3.3"/>
<path d="M369.4 342.1L370.9 342.9L372.5 343.6L374.0 344.3L375.6 345.0L377.1 345.7" stroke="rgb(107,107,107)" stroke-width="3.4"/>
<path d="M379.9 347.3L381.2 348.3L381.1 348.4L381.0 348.5L380.7 348.8L380.5 349.1" stroke="rgb(107,107,107)" stroke-width="3.2"/>
<path d="M350.8 326.9L351.8 327.3L352.8 327.8L353.7 328.3" stroke="rgb(183,183,183)" stroke-width="1.3"/>
<path d="M354.3 328.6L355.6 329.4L356.9 330.3L358.0 331.3" stroke="rgb(155,155,155)" stroke-width="1.2"/>
<path d="M358.4 331.7L359.0 332.2L359.5 332.7L359.9 333.3" stroke="rgb(210,210,210)" stroke-width="2.2"/>
<path d="M360.3 333.7L361.4 335.0L362.4 336.4L363.5 337.7" stroke="rgb(201,201,201)" stroke-width="1.5"/>
<path d="M369.5 342.5L370.8 343.2L372.1 343.8L373.4 344.4" stroke="rgb(183,183,183)" stroke-width="2.2"/>
<path d="M374.0 344.6L375.7 345.4L377.4 346.3L379.0 347.2" stroke="rgb(208,208,208)" stroke-width="1.1"/>
<path d="M349.6 322.3L352.2 324.0L355.1 325.6L358.1 327.1L360.8 328.7L363.3 330.5" stroke="rgb(107,107,107)" stroke-width="2.5"/>
<path d="M364.6 331.6L366.6 333.6L368.4 335.7L370.4 337.8L372.5 339.7L374.8 341.5" stroke="rgb(107,107,107)" stroke-width="3.3"/>
<path d="M376.4 342.5L378.6 343.7L380.8 344.9L383.0 346.0L383.3 346.0L383.4 345.9" stroke="rgb(107,107,107)" stroke-width="2.8"/>
<path d="M349.2 322.5L350.7 323.5L352.2 324.4L353.9 325.3" stroke="rgb(199,199,199)" stroke-width="1.6"/>
<path d="M357.0 326.9L357.7 327.3L358.4 327.7L359.1 328.0" stroke="rgb(142,142,142)" stroke-width="1.5"/>
<path d="M359.6 328.3L360.1 328.6L360.6 328.9L361.0 329.3" stroke="rgb(212,212,212)" stroke-width="1.4"/>
<path d="M361.5 329.6L362.7 330.5L363.9 331.5L365.0 332.5" stroke="rgb(141,141,141)" stroke-width="1.0"/>
<path d="M367.1 334.7L367.8 335.6L368.6 336.4L369.4 337.3" stroke="rgb(143,143,143)" stroke-width="2.0"/>
<path d="M369.8 337.7L370.4 338.3L371.1 339.0L371.8 339.6" stroke="rgb(173,173,173)" stroke-width="2.1"/>
<path d="M372.3 340.0L373.0 340.6L373.9 341.2L374.7 341.8" stroke="rgb(154,154,154)" stroke-width="1.8"/>
<path d="M377.2 343.3L378.9 344.2L380.6 345.1L382.2 346.0" stroke="rgb(176,176,176)" stroke-width="1.6"/>
<path d="M353.0 320.2L354.6 321.5L356.5 322.7L358.6 323.8L360.7 324.8L362.7 325.8" stroke="rgb(107,107,107)" stroke-width="2.7"/>
<path d="M365.7 327.6L366.9 328.5L368.0 329.5L369.0 330.5L370.0 331.7L370.9 332.8" stroke="rgb(107,107,107)" stroke-width="2.6"/>
<path d="M372.0 334.2L373.1 335.4L374.2 336.5L375.3 337.6L376.6 338.5L378.0 339.4" stroke="rgb(107,107,107)" stroke-width="3.2"/>
<path d="M379.9 340.4L382.5 341.7L385.0 343.0L385.8 343.3L385.8 343.3L385.5 343.6" stroke="rgb(107,107,107)" stroke-width="2.3"/>
<path d="M358.4 324.1L360.0 324.8L361.6 325.6L363.1 326.4" stroke="rgb(147,147,147)" stroke-width="1.6"/>
<path d="M367.8 329.8L368.2 330.2L368.6 330.6L369.0 331.1" stroke="rgb(210,210,210)" stroke-width="1.4"/>
<path d="M370.8 333.3L371.8 334.5L372.9 335.7L374.0 336.9" stroke="rgb(193,193,193)" stroke-width="2.1"/>
<path d="M374.4 337.2L375.7 338.3L377.1 339.3L378.6 340.1" stroke="rgb(196,196,196)" stroke-width="2.4"/>
<path d="M379.1 340.4L380.6 341.1L382.1 341.9L383.5 342.6" stroke="rgb(170,170,170)" stroke-width="2.5"/>
<ellipse cx="346.6" cy="334.6" rx="5.0" ry="3.6" transform="rotate(30 346.6 334.6)" fill="rgb(255,255,255)" opacity="0.45"/>
<ellipse cx="346.6" cy="334.6" rx="3.4" ry="2.4" transform="rotate(30 346.6 334.6)" fill="rgb(255,255,255)"/>
<ellipse cx="363.0" cy="328.6" rx="4.4" ry="3.0" transform="rotate(30 363.0 328.6)" fill="rgb(255,255,255)" opacity="0.45"/>
<ellipse cx="363.0" cy="328.6" rx="3.0" ry="2.0" transform="rotate(30 363.0 328.6)" fill="rgb(255,255,255)"/>
<ellipse cx="354.0" cy="321.2" rx="3.1" ry="2.2" transform="rotate(30 354.0 321.2)" fill="rgb(255,255,255)" opacity="0.45"/>
<ellipse cx="354.0" cy="321.2" rx="2.1" ry="1.4" transform="rotate(30 354.0 321.2)" fill="rgb(255,255,255)"/>
<ellipse cx="338.4" cy="330.1" rx="3.1" ry="1.8" transform="rotate(30 338.4 330.1)" fill="rgb(255,255,255)" opacity="0.45"/>
<ellipse cx="338.4" cy="330.1" rx="2.1" ry="1.2" transform="rotate(30 338.4 330.1)" fill="rgb(255,255,255)"/>
<ellipse cx="331.5" cy="336.8" rx="3.8" ry="1.6" transform="rotate(30 331.5 336.8)" fill="rgb(255,255,255)" opacity="0.45"/>
<ellipse cx="331.5" cy="336.8" rx="2.5" ry="1.0" transform="rotate(30 331.5 336.8)" fill="rgb(255,255,255)"/>
<ellipse cx="359.3" cy="339.8" rx="5.0" ry="3.4" transform="rotate(30 359.3 339.8)" fill="rgb(255,255,255)" opacity="0.45"/>
<ellipse cx="359.3" cy="339.8" rx="3.4" ry="2.2" transform="rotate(30 359.3 339.8)" fill="rgb(255,255,255)"/>
<ellipse cx="347.3" cy="342.0" rx="3.1" ry="2.4" transform="rotate(30 347.3 342.0)" fill="rgb(255,255,255)" opacity="0.45"/>
<ellipse cx="347.3" cy="342.0" rx="2.1" ry="1.6" transform="rotate(30 347.3 342.0)" fill="rgb(255,255,255)"/>
<ellipse cx="375.0" cy="343.5" rx="3.8" ry="2.6" transform="rotate(30 375.0 343.5)" fill="rgb(255,255,255)" opacity="0.45"/>
<ellipse cx="375.0" cy="343.5" rx="2.5" ry="1.8" transform="rotate(30 375.0 343.5)" fill="rgb(255,255,255)"/>
<ellipse cx="369.7" cy="336.8" rx="3.1" ry="2.4" transform="rotate(30 369.7 336.8)" fill="rgb(255,255,255)" opacity="0.45"/>
<ellipse cx="369.7" cy="336.8" rx="2.1" ry="1.6" transform="rotate(30 369.7 336.8)" fill="rgb(255,255,255)"/>
<ellipse cx="354.0" cy="349.5" rx="3.1" ry="2.4" transform="rotate(30 354.0 349.5)" fill="rgb(255,255,255)" opacity="0.45"/>
<ellipse cx="354.0" cy="349.5" rx="2.1" ry="1.6" transform="rotate(30 354.0 349.5)" fill="rgb(255,255,255)"/>
<ellipse cx="362.2" cy="345.8" rx="3.8" ry="2.6" transform="rotate(30 362.2 345.8)" fill="rgb(255,255,255)" opacity="0.45"/>
<ellipse cx="362.2" cy="345.8" rx="2.5" ry="1.8" transform="rotate(30 362.2 345.8)" fill="rgb(255,255,255)"/>
<ellipse cx="368.2" cy="350.2" rx="2.5" ry="1.9" transform="rotate(30 368.2 350.2)" fill="rgb(255,255,255)" opacity="0.45"/>
<ellipse cx="368.2" cy="350.2" rx="1.7" ry="1.3" transform="rotate(30 368.2 350.2)" fill="rgb(255,255,255)"/>
<ellipse cx="377.9" cy="333.8" rx="2.5" ry="1.8" transform="rotate(30 377.9 333.8)" fill="rgb(204,204,204)" opacity="0.45"/>
<ellipse cx="377.9" cy="333.8" rx="1.7" ry="1.2" transform="rotate(30 377.9 333.8)" fill="rgb(204,204,204)"/>
<ellipse cx="366.7" cy="324.9" rx="3.1" ry="2.2" transform="rotate(30 366.7 324.9)" fill="rgb(255,255,255)" opacity="0.45"/>
<ellipse cx="366.7" cy="324.9" rx="2.1" ry="1.4" transform="rotate(30 366.7 324.9)" fill="rgb(255,255,255)"/>
</g></g>
<clipPath id="cp12"><path d="M392.0 336.3L419.5 319.3L448.5 342.0L429.2 362.5z"/></clipPath>
<g filter="url(#bl)"><g clip-path="url(#cp12)" fill="none" stroke-linecap="round" stroke-linejoin="round">
<path d="M392.0 336.3L419.5 319.3L448.5 342.0L429.2 362.5z" fill="rgb(38,38,38)"/>
<path d="M392.9 334.3L394.5 336.3L396.2 338.2L398.1 339.9L400.5 341.4L403.1 342.7" stroke="rgb(68,68,68)" stroke-width="2.4"/>
<path d="M406.8 344.2L408.5 344.9L410.2 345.7L411.7 346.6L413.1 347.5L414.5 348.5" stroke="rgb(68,68,68)" stroke-width="2.6"/>
<path d="M416.8 350.9L418.4 352.9L420.2 354.9L422.1 356.7L424.3 358.3L426.7 359.7" stroke="rgb(68,68,68)" stroke-width="3.0"/>
<path d="M392.6 334.5L393.8 336.1L395.1 337.6L396.6 339.1" stroke="rgb(125,125,125)" stroke-width="1.5"/>
<path d="M416.5 351.1L417.9 352.7L419.2 354.3L420.7 355.9" stroke="rgb(87,87,87)" stroke-width="2.3"/>
<path d="M421.1 356.3L422.3 357.3L423.6 358.2L424.9 359.1" stroke="rgb(118,118,118)" stroke-width="1.7"/>
<path d="M425.5 359.4L426.3 359.8L427.1 360.2L427.9 360.5" stroke="rgb(116,116,116)" stroke-width="2.0"/>
<path d="M428.5 360.8L429.9 361.4L431.3 361.9L431.7 361.8" stroke="rgb(127,127,127)" stroke-width="1.1"/>
<path d="M397.2 331.7L399.5 333.6L401.5 335.8L403.3 338.1L405.4 340.3L407.8 342.2" stroke="rgb(68,68,68)" stroke-width="2.7"/>
<path d="M411.5 344.1L414.7 345.4L417.7 346.8L420.4 348.4L422.7 350.3L424.7 352.5" stroke="rgb(68,68,68)" stroke-width="2.9"/>
<path d="M427.3 355.5L429.3 357.4L431.6 359.1L433.4 359.9L433.9 359.5L434.3 359.0" stroke="rgb(68,68,68)" stroke-width="2.8"/>
<path d="M396.8 331.9L398.3 333.0L399.6 334.2L400.7 335.4" stroke="rgb(85,85,85)" stroke-width="1.9"/>
<path d="M402.7 337.9L403.2 338.5L403.8 339.2L404.4 339.8" stroke="rgb(93,93,93)" stroke-width="1.7"/>
<path d="M404.8 340.2L406.0 341.2L407.2 342.2L408.6 343.0" stroke="rgb(106,106,106)" stroke-width="2.5"/>
<path d="M409.2 343.4L410.0 343.8L410.9 344.1L411.7 344.5" stroke="rgb(90,90,90)" stroke-width="1.2"/>
<path d="M414.9 345.8L417.0 346.8L418.9 347.8L420.7 349.0" stroke="rgb(119,119,119)" stroke-width="1.9"/>
<path d="M429.4 358.0L430.2 358.6L431.0 359.1L431.9 359.6" stroke="rgb(110,110,110)" stroke-width="1.4"/>
<path d="M399.0 330.5L401.3 332.6L403.7 334.6L406.2 336.5L408.9 338.2L411.6 339.9" stroke="rgb(68,68,68)" stroke-width="3.4"/>
<path d="M414.1 341.3L416.6 342.7L419.1 344.1L421.6 345.5L424.1 346.9L426.4 348.4" stroke="rgb(68,68,68)" stroke-width="2.6"/>
<path d="M429.9 350.9L431.3 352.0L432.7 353.2L434.1 354.4L435.4 355.6L436.5 356.6" stroke="rgb(68,68,68)" stroke-width="2.3"/>
<path d="M404.5 335.7L405.7 336.5L406.8 337.3L408.0 338.1" stroke="rgb(115,115,115)" stroke-width="1.1"/>
<path d="M414.6 342.0L415.5 342.5L416.4 343.0L417.3 343.5" stroke="rgb(83,83,83)" stroke-width="2.2"/>
<path d="M424.1 347.3L425.9 348.5L427.7 349.7L429.3 350.9" stroke="rgb(121,121,121)" stroke-width="2.3"/>
<path d="M429.8 351.3L431.4 352.6L432.9 353.8L434.4 355.2" stroke="rgb(104,104,104)" stroke-width="1.1"/>
<path d="M434.9 355.6L436.2 356.9L436.1 357.1L435.9 357.3" stroke="rgb(108,108,108)" stroke-width="1.9"/>
<path d="M403.6 327.7L404.8 328.4L405.8 329.2L406.9 329.9L407.9 330.6L408.9 331.4" stroke="rgb(68,68,68)" stroke-width="2.7"/>
<path d="M410.8 333.0L412.9 335.0L415.0 337.0L417.2 339.1L419.4 341.1L421.8 342.9" stroke="rgb(68,68,68)" stroke-width="3.0"/>
<path d="M425.5 345.5L428.6 347.3L431.6 349.0L434.7 350.7L437.6 352.6L439.2 353.7" stroke="rgb(68,68,68)" stroke-width="2.5"/>
<path d="M407.9 331.1L408.5 331.5L409.1 332.0L409.6 332.5" stroke="rgb(109,109,109)" stroke-width="1.5"/>
<path d="M410.1 332.9L411.5 334.2L412.9 335.5L414.2 336.8" stroke="rgb(114,114,114)" stroke-width="1.1"/>
<path d="M419.3 341.4L420.9 342.7L422.6 343.9L424.3 345.1" stroke="rgb(119,119,119)" stroke-width="2.5"/>
<path d="M424.8 345.4L425.4 345.8L426.1 346.2L426.7 346.6" stroke="rgb(112,112,112)" stroke-width="2.5"/>
<path d="M429.4 348.1L430.9 348.9L432.3 349.7L433.7 350.5" stroke="rgb(88,88,88)" stroke-width="1.8"/>
<path d="M434.2 350.8L435.4 351.5L436.5 352.2L437.6 353.0" stroke="rgb(122,122,122)" stroke-width="2.1"/>
<path d="M407.2 325.6L410.3 327.5L412.9 329.7L415.2 332.1L417.4 334.6L419.8 337.1" stroke="rgb(68,68,68)" stroke-width="3.4"/>
<path d="M423.1 339.5L424.3 340.3L425.5 341.0L426.8 341.6L428.1 342.3L429.3 342.9" stroke="rgb(68,68,68)" stroke-width="2.7"/>
<path d="M431.0 343.7L433.7 345.2L436.3 346.9L438.5 348.9L440.6 351.0L440.8 351.9" stroke="rgb(68,68,68)" stroke-width="2.3"/>
<path d="M422.8 339.8L423.3 340.1L423.8 340.4L424.3 340.7" stroke="rgb(113,113,113)" stroke-width="1.6"/>
<path d="M410.2 323.8L412.9 325.4L415.5 327.1L417.9 329.0L420.2 330.9L422.3 332.9" stroke="rgb(68,68,68)" stroke-width="3.1"/>
<path d="M424.0 334.5L425.9 336.3L427.8 338.0L429.8 339.7L431.9 341.3L434.0 342.8" stroke="rgb(68,68,68)" stroke-width="2.7"/>
<path d="M436.5 344.4L438.1 345.4L439.7 346.4L441.3 347.3L442.8 348.3L443.8 348.8" stroke="rgb(68,68,68)" stroke-width="2.6"/>
<path d="M409.9 324.0L411.5 324.9L413.1 325.9L414.6 327.0" stroke="rgb(87,87,87)" stroke-width="2.3"/>
<path d="M421.8 332.9L423.1 334.1L424.4 335.4L425.8 336.6" stroke="rgb(121,121,121)" stroke-width="1.4"/>
<path d="M426.2 337.0L426.6 337.4L427.1 337.9L427.6 338.3" stroke="rgb(105,105,105)" stroke-width="2.2"/>
<path d="M431.7 341.6L432.4 342.1L433.0 342.5L433.7 343.0" stroke="rgb(107,107,107)" stroke-width="1.9"/>
<path d="M441.0 347.5L442.5 348.4L443.5 349.0L443.6 348.9" stroke="rgb(118,118,118)" stroke-width="1.0"/>
<path d="M412.6 322.3L413.6 323.2L414.6 324.0L415.7 324.9L416.8 325.7L418.0 326.5" stroke="rgb(68,68,68)" stroke-width="2.5"/>
<path d="M420.8 328.1L423.1 329.3L425.3 330.5L427.5 331.7L429.6 333.0L431.6 334.4" stroke="rgb(68,68,68)" stroke-width="3.2"/>
<path d="M432.9 335.4L434.8 337.1L436.5 338.9L438.3 340.7L440.0 342.6L441.8 344.4" stroke="rgb(68,68,68)" stroke-width="2.6"/>
<path d="M442.8 345.3L444.0 346.3L445.1 347.3L445.1 347.3L445.2 347.2L445.3 347.1" stroke="rgb(68,68,68)" stroke-width="2.3"/>
<path d="M436.4 339.2L437.3 340.2L438.2 341.1L439.0 342.1" stroke="rgb(125,125,125)" stroke-width="2.5"/>
<path d="M439.4 342.5L440.7 343.8L442.0 345.1L443.4 346.3" stroke="rgb(105,105,105)" stroke-width="2.1"/>
<path d="M416.3 320.1L418.4 321.7L420.6 323.2L422.9 324.7L425.3 326.1L427.6 327.6" stroke="rgb(68,68,68)" stroke-width="3.3"/>
<path d="M431.1 329.9L432.5 330.9L433.9 332.0L435.2 333.1L436.4 334.3L437.7 335.5" stroke="rgb(68,68,68)" stroke-width="3.2"/>
<path d="M439.7 337.5L441.0 338.8L442.4 340.1L443.9 341.4L445.4 342.6L446.9 343.8" stroke="rgb(68,68,68)" stroke-width="2.5"/>
<path d="M415.9 320.3L416.4 320.6L416.8 320.9L417.2 321.3" stroke="rgb(87,87,87)" stroke-width="1.3"/>
<path d="M417.7 321.6L418.5 322.2L419.3 322.7L420.1 323.3" stroke="rgb(90,90,90)" stroke-width="1.4"/>
<path d="M420.5 323.6L422.2 324.6L423.8 325.6L425.4 326.6" stroke="rgb(109,109,109)" stroke-width="1.8"/>
<ellipse cx="410.5" cy="340.9" rx="1.2" ry="0.6" transform="rotate(36 410.5 340.9)" fill="rgb(115,115,115)"/>
<ellipse cx="402.4" cy="335.9" rx="0.9" ry="0.6" transform="rotate(36 402.4 335.9)" fill="rgb(121,121,121)"/>
<ellipse cx="433.7" cy="348.1" rx="1.1" ry="0.6" transform="rotate(36 433.7 348.1)" fill="rgb(103,103,103)"/>
<ellipse cx="430.1" cy="357.5" rx="1.2" ry="0.6" transform="rotate(36 430.1 357.5)" fill="rgb(109,109,109)"/>
<ellipse cx="427.0" cy="347.3" rx="0.8" ry="0.6" transform="rotate(36 427.0 347.3)" fill="rgb(98,98,98)"/>
<ellipse cx="427.9" cy="349.3" rx="1.1" ry="0.6" transform="rotate(36 427.9 349.3)" fill="rgb(121,121,121)"/>
<ellipse cx="439.8" cy="347.4" rx="1.5" ry="0.6" transform="rotate(36 439.8 347.4)" fill="rgb(111,111,111)"/>
<ellipse cx="429.6" cy="354.1" rx="1.2" ry="0.6" transform="rotate(36 429.6 354.1)" fill="rgb(116,116,116)"/>
<ellipse cx="413.7" cy="330.3" rx="0.7" ry="0.6" transform="rotate(36 413.7 330.3)" fill="rgb(82,82,82)"/>
<ellipse cx="428.4" cy="330.3" rx="1.1" ry="0.6" transform="rotate(36 428.4 330.3)" fill="rgb(109,109,109)"/>
<ellipse cx="438.3" cy="338.4" rx="1.2" ry="0.6" transform="rotate(36 438.3 338.4)" fill="rgb(98,98,98)"/>
<ellipse cx="431.3" cy="356.7" rx="1.4" ry="0.6" transform="rotate(36 431.3 356.7)" fill="rgb(88,88,88)"/>
<ellipse cx="411.6" cy="330.8" rx="0.9" ry="0.6" transform="rotate(36 411.6 330.8)" fill="rgb(126,126,126)"/>
<ellipse cx="418.9" cy="331.0" rx="1.3" ry="0.6" transform="rotate(36 418.9 331.0)" fill="rgb(87,87,87)"/>
<ellipse cx="443.2" cy="341.8" rx="1.2" ry="0.6" transform="rotate(36 443.2 341.8)" fill="rgb(112,112,112)"/>
<ellipse cx="432.2" cy="359.2" rx="1.2" ry="0.6" transform="rotate(36 432.2 359.2)" fill="rgb(96,96,96)"/>
<ellipse cx="404.4" cy="344.1" rx="1.1" ry="0.6" transform="rotate(36 404.4 344.1)" fill="rgb(105,105,105)"/>
<ellipse cx="416.3" cy="338.7" rx="1.2" ry="0.6" transform="rotate(36 416.3 338.7)" fill="rgb(82,82,82)"/>
<ellipse cx="405.6" cy="333.1" rx="1.2" ry="0.6" transform="rotate(36 405.6 333.1)" fill="rgb(98,98,98)"/>
<ellipse cx="425.4" cy="333.5" rx="1.2" ry="0.6" transform="rotate(36 425.4 333.5)" fill="rgb(86,86,86)"/>
<ellipse cx="424.1" cy="337.8" rx="1.0" ry="0.6" transform="rotate(36 424.1 337.8)" fill="rgb(126,126,126)"/>
<ellipse cx="407.4" cy="328.1" rx="0.9" ry="0.6" transform="rotate(36 407.4 328.1)" fill="rgb(87,87,87)"/>
<ellipse cx="403.4" cy="337.6" rx="1.4" ry="0.6" transform="rotate(36 403.4 337.6)" fill="rgb(86,86,86)"/>
<ellipse cx="424.0" cy="338.1" rx="0.9" ry="0.6" transform="rotate(36 424.0 338.1)" fill="rgb(107,107,107)"/>
<ellipse cx="438.0" cy="338.6" rx="0.7" ry="0.6" transform="rotate(36 438.0 338.6)" fill="rgb(101,101,101)"/>
<ellipse cx="393.3" cy="337.2" rx="0.7" ry="0.6" transform="rotate(36 393.3 337.2)" fill="rgb(114,114,114)"/>
<ellipse cx="421.7" cy="341.4" rx="0.9" ry="0.6" transform="rotate(36 421.7 341.4)" fill="rgb(98,98,98)"/>
<ellipse cx="446.0" cy="342.2" rx="1.1" ry="0.6" transform="rotate(36 446.0 342.2)" fill="rgb(116,116,116)"/>
<ellipse cx="438.8" cy="336.2" rx="0.8" ry="0.6" transform="rotate(36 438.8 336.2)" fill="rgb(92,92,92)"/>
<ellipse cx="399.7" cy="336.5" rx="1.2" ry="0.6" transform="rotate(36 399.7 336.5)" fill="rgb(99,99,99)"/>
<ellipse cx="408.8" cy="333.8" rx="5.0" ry="3.4" transform="rotate(30 408.8 333.8)" fill="rgb(255,255,255)" opacity="0.45"/>
<ellipse cx="408.8" cy="333.8" rx="3.4" ry="2.2" transform="rotate(30 408.8 333.8)" fill="rgb(255,255,255)"/>
<ellipse cx="426.0" cy="328.6" rx="3.1" ry="2.2" transform="rotate(30 426.0 328.6)" fill="rgb(255,255,255)" opacity="0.45"/>
<ellipse cx="426.0" cy="328.6" rx="2.1" ry="1.4" transform="rotate(30 426.0 328.6)" fill="rgb(255,255,255)"/>
<ellipse cx="411.8" cy="322.7" rx="2.2" ry="1.7" transform="rotate(30 411.8 322.7)" fill="rgb(216,216,216)" opacity="0.45"/>
<ellipse cx="411.8" cy="322.7" rx="1.5" ry="1.1" transform="rotate(30 411.8 322.7)" fill="rgb(216,216,216)"/>
<ellipse cx="428.2" cy="324.9" rx="1.9" ry="1.4" transform="rotate(30 428.2 324.9)" fill="rgb(178,178,178)" opacity="0.45"/>
<ellipse cx="428.2" cy="324.9" rx="1.3" ry="1.0" transform="rotate(30 428.2 324.9)" fill="rgb(178,178,178)"/>
<ellipse cx="399.9" cy="341.3" rx="5.6" ry="1.8" transform="rotate(30 399.9 341.3)" fill="rgb(255,255,255)" opacity="0.45"/>
<ellipse cx="399.9" cy="341.3" rx="3.8" ry="1.2" transform="rotate(30 399.9 341.3)" fill="rgb(255,255,255)"/>
<ellipse cx="409.6" cy="342.0" rx="2.8" ry="2.0" transform="rotate(30 409.6 342.0)" fill="rgb(255,255,255)" opacity="0.45"/>
<ellipse cx="409.6" cy="342.0" rx="1.9" ry="1.4" transform="rotate(30 409.6 342.0)" fill="rgb(255,255,255)"/>
<ellipse cx="420.8" cy="339.1" rx="3.1" ry="2.3" transform="rotate(30 420.8 339.1)" fill="rgb(255,255,255)" opacity="0.45"/>
<ellipse cx="420.8" cy="339.1" rx="2.1" ry="1.5" transform="rotate(30 420.8 339.1)" fill="rgb(255,255,255)"/>
<ellipse cx="437.2" cy="342.8" rx="3.1" ry="2.3" transform="rotate(30 437.2 342.8)" fill="rgb(255,255,255)" opacity="0.45"/>
<ellipse cx="437.2" cy="342.8" rx="2.1" ry="1.5" transform="rotate(30 437.2 342.8)" fill="rgb(255,255,255)"/>
<ellipse cx="426.0" cy="346.5" rx="2.9" ry="2.2" transform="rotate(30 426.0 346.5)" fill="rgb(255,255,255)" opacity="0.45"/>
<ellipse cx="426.0" cy="346.5" rx="2.0" ry="1.4" transform="rotate(30 426.0 346.5)" fill="rgb(255,255,255)"/>
<ellipse cx="416.3" cy="348.7" rx="2.9" ry="2.2" transform="rotate(30 416.3 348.7)" fill="rgb(255,255,255)" opacity="0.45"/>
<ellipse cx="416.3" cy="348.7" rx="2.0" ry="1.4" transform="rotate(30 416.3 348.7)" fill="rgb(255,255,255)"/>
<ellipse cx="401.4" cy="330.9" rx="2.5" ry="1.7" transform="rotate(30 401.4 330.9)" fill="rgb(153,153,153)" opacity="0.45"/>
<ellipse cx="401.4" cy="330.9" rx="1.7" ry="1.1" transform="rotate(30 401.4 330.9)" fill="rgb(153,153,153)"/>
</g></g>
<clipPath id="cp13"><path d="M455.6 336.3L483.1 319.3L512.1 342.0L492.8 362.5z"/></clipPath>
<g filter="url(#bl)"><g clip-path="url(#cp13)" fill="none" stroke-linecap="round" stroke-linejoin="round">
<path d="M455.6 336.3L483.1 319.3L512.1 342.0L492.8 362.5z" fill="rgb(38,38,38)"/>
<path d="M456.8 334.1L458.9 335.6L461.0 337.1L463.0 338.6L464.9 340.2L466.8 341.9" stroke="rgb(56,56,56)" stroke-width="3.3"/>
<path d="M470.2 344.8L472.9 347.0L475.8 349.1L478.8 351.1L481.9 353.0L485.1 354.8" stroke="rgb(56,56,56)" stroke-width="2.5"/>
<path d="M488.8 357.1L490.6 358.2L492.4 359.3L494.1 360.5L495.5 361.6L495.4 361.7" stroke="rgb(56,56,56)" stroke-width="2.9"/>
<path d="M465.1 340.9L465.8 341.5L466.5 342.1L467.1 342.6" stroke="rgb(84,84,84)" stroke-width="2.3"/>
<path d="M467.6 343.1L468.9 344.1L470.1 345.2L471.3 346.2" stroke="rgb(86,86,86)" stroke-width="1.5"/>
<path d="M471.9 346.6L473.2 347.6L474.5 348.6L475.9 349.6" stroke="rgb(76,76,76)" stroke-width="2.5"/>
<path d="M476.5 350.0L477.1 350.4L477.6 350.7L478.2 351.1" stroke="rgb(81,81,81)" stroke-width="1.5"/>
<path d="M486.2 355.9L487.8 356.8L489.3 357.7L490.8 358.7" stroke="rgb(76,76,76)" stroke-width="1.2"/>
<path d="M459.0 332.7L462.0 334.9L465.4 336.8L468.9 338.6L472.3 340.5L475.3 342.6" stroke="rgb(56,56,56)" stroke-width="2.8"/>
<path d="M476.6 343.7L477.8 344.9L479.1 346.1L480.3 347.3L481.5 348.5L482.8 349.7" stroke="rgb(56,56,56)" stroke-width="3.1"/>
<path d="M484.0 350.7L486.5 352.4L489.1 353.9L491.8 355.3L494.5 356.7L497.1 358.3" stroke="rgb(56,56,56)" stroke-width="3.1"/>
<path d="M458.7 332.9L459.3 333.4L460.0 333.9L460.7 334.4" stroke="rgb(84,84,84)" stroke-width="2.3"/>
<path d="M461.2 334.8L462.8 335.8L464.6 336.8L466.3 337.7" stroke="rgb(71,71,71)" stroke-width="1.8"/>
<path d="M467.0 338.0L467.8 338.5L468.7 338.9L469.5 339.4" stroke="rgb(99,99,99)" stroke-width="1.4"/>
<path d="M473.9 342.0L475.5 343.3L477.0 344.6L478.5 346.0" stroke="rgb(89,89,89)" stroke-width="2.0"/>
<path d="M478.9 346.5L479.5 347.0L480.0 347.6L480.6 348.1" stroke="rgb(81,81,81)" stroke-width="1.5"/>
<path d="M463.7 329.9L464.7 331.0L465.7 332.0L466.7 333.1L467.8 334.1L468.9 335.2" stroke="rgb(56,56,56)" stroke-width="3.0"/>
<path d="M471.7 337.5L473.7 339.0L475.9 340.3L478.3 341.6L480.6 342.8L483.0 344.0" stroke="rgb(56,56,56)" stroke-width="2.9"/>
<path d="M486.8 346.3L489.2 348.0L491.3 349.8L493.4 351.8L495.4 353.8L497.4 355.8" stroke="rgb(56,56,56)" stroke-width="3.0"/>
<path d="M482.6 344.2L483.6 344.8L484.6 345.3L485.6 345.9" stroke="rgb(76,76,76)" stroke-width="1.2"/>
<path d="M486.1 346.3L486.8 346.7L487.4 347.1L488.0 347.5" stroke="rgb(96,96,96)" stroke-width="1.8"/>
<path d="M493.2 352.1L494.1 353.0L495.0 353.9L495.8 354.7" stroke="rgb(98,98,98)" stroke-width="1.2"/>
<path d="M467.0 327.9L468.4 328.7L469.7 329.5L470.9 330.3L472.1 331.2L473.3 332.1" stroke="rgb(56,56,56)" stroke-width="3.2"/>
<path d="M475.9 334.6L477.7 336.4L479.5 338.2L481.5 339.9L483.6 341.5L485.8 343.0" stroke="rgb(56,56,56)" stroke-width="3.1"/>
<path d="M487.4 343.9L490.5 345.5L493.5 347.2L496.4 349.0L499.0 351.1L501.5 353.3" stroke="rgb(56,56,56)" stroke-width="2.8"/>
<path d="M480.7 339.7L481.9 340.7L483.1 341.6L484.4 342.5" stroke="rgb(78,78,78)" stroke-width="2.2"/>
<path d="M492.4 347.0L492.9 347.3L493.5 347.6L494.0 347.9" stroke="rgb(91,91,91)" stroke-width="2.2"/>
<path d="M469.8 326.2L471.7 327.4L473.7 328.5L475.6 329.7L477.5 330.9L479.4 332.1" stroke="rgb(56,56,56)" stroke-width="2.2"/>
<path d="M481.9 333.8L483.9 335.4L485.8 336.9L487.7 338.5L489.5 340.2L491.3 341.8" stroke="rgb(56,56,56)" stroke-width="2.4"/>
<path d="M493.7 344.0L495.4 345.5L497.2 347.0L499.1 348.5L501.0 349.9L503.0 351.2" stroke="rgb(56,56,56)" stroke-width="3.0"/>
<path d="M477.0 331.0L478.4 331.8L479.7 332.7L480.9 333.6" stroke="rgb(82,82,82)" stroke-width="1.8"/>
<path d="M481.4 333.9L482.2 334.5L482.9 335.1L483.7 335.6" stroke="rgb(80,80,80)" stroke-width="1.6"/>
<path d="M497.8 347.9L499.0 348.8L500.1 349.7L501.3 350.5" stroke="rgb(93,93,93)" stroke-width="2.3"/>
<path d="M474.0 323.6L476.2 324.7L478.3 325.9L480.1 327.2L481.8 328.7L483.3 330.2" stroke="rgb(56,56,56)" stroke-width="2.5"/>
<path d="M485.8 333.1L487.9 335.7L490.3 338.0L493.1 340.1L496.2 341.9L499.5 343.5" stroke="rgb(56,56,56)" stroke-width="2.7"/>
<path d="M502.2 344.8L503.9 345.7L505.6 346.6L507.1 347.7L507.8 348.3L507.7 348.4" stroke="rgb(56,56,56)" stroke-width="3.0"/>
<path d="M473.7 323.8L475.4 324.7L477.0 325.6L478.6 326.5" stroke="rgb(86,86,86)" stroke-width="2.5"/>
<path d="M480.8 328.3L481.6 329.0L482.3 329.7L483.0 330.4" stroke="rgb(80,80,80)" stroke-width="2.4"/>
<path d="M485.3 333.2L486.4 334.5L487.5 335.8L488.7 337.1" stroke="rgb(72,72,72)" stroke-width="1.9"/>
<path d="M489.2 337.5L490.2 338.4L491.3 339.3L492.5 340.2" stroke="rgb(97,97,97)" stroke-width="2.2"/>
<path d="M493.0 340.5L494.3 341.2L495.6 341.9L496.9 342.6" stroke="rgb(99,99,99)" stroke-width="1.3"/>
<path d="M476.5 322.1L477.7 323.5L478.9 324.8L480.3 326.0L481.9 327.1L483.6 328.1" stroke="rgb(56,56,56)" stroke-width="3.4"/>
<path d="M487.7 330.2L489.1 330.8L490.5 331.5L491.9 332.2L493.2 332.9L494.5 333.7" stroke="rgb(56,56,56)" stroke-width="3.2"/>
<path d="M497.3 335.8L498.5 336.9L499.5 338.0L500.6 339.2L501.6 340.5L502.6 341.7" stroke="rgb(56,56,56)" stroke-width="2.5"/>
<path d="M503.5 342.8L505.6 345.0L508.0 347.0L508.7 347.3L509.1 346.8L509.6 346.3" stroke="rgb(56,56,56)" stroke-width="2.3"/>
<path d="M482.1 327.6L482.6 328.0L483.2 328.3L483.8 328.6" stroke="rgb(97,97,97)" stroke-width="1.2"/>
<path d="M502.1 341.7L502.8 342.5L503.6 343.4L504.4 344.2" stroke="rgb(98,98,98)" stroke-width="2.1"/>
<path d="M480.9 319.4L483.2 321.0L485.4 322.6L487.3 324.4L489.2 326.3L491.1 328.1" stroke="rgb(56,56,56)" stroke-width="3.1"/>
<path d="M493.7 330.6L496.1 332.6L498.8 334.5L501.5 336.2L504.3 337.9L507.0 339.6" stroke="rgb(56,56,56)" stroke-width="3.1"/>
<path d="M508.6 340.7L510.8 342.5L512.0 343.7L511.8 343.9L511.6 344.2L511.4 344.4" stroke="rgb(56,56,56)" stroke-width="3.1"/>
<path d="M488.9 326.4L489.7 327.3L490.5 328.1L491.4 329.0" stroke="rgb(73,73,73)" stroke-width="2.3"/>
<path d="M491.8 329.4L492.8 330.3L493.8 331.2L494.8 332.0" stroke="rgb(77,77,77)" stroke-width="1.1"/>
<path d="M495.2 332.4L496.5 333.3L497.8 334.2L499.1 335.1" stroke="rgb(73,73,73)" stroke-width="2.2"/>
<path d="M499.6 335.4L500.4 335.9L501.2 336.4L502.0 336.9" stroke="rgb(88,88,88)" stroke-width="1.6"/>
<path d="M506.2 339.5L507.2 340.2L508.3 340.9L509.2 341.6" stroke="rgb(86,86,86)" stroke-width="2.4"/>
<ellipse cx="483.4" cy="339.5" rx="1.2" ry="0.6" transform="rotate(36 483.4 339.5)" fill="rgb(81,81,81)"/>
<ellipse cx="485.7" cy="323.9" rx="1.5" ry="0.6" transform="rotate(36 485.7 323.9)" fill="rgb(85,85,85)"/>
<ellipse cx="481.4" cy="354.4" rx="1.1" ry="0.6" transform="rotate(36 481.4 354.4)" fill="rgb(82,82,82)"/>
<ellipse cx="483.6" cy="330.0" rx="1.2" ry="0.6" transform="rotate(36 483.6 330.0)" fill="rgb(73,73,73)"/>
<ellipse cx="496.0" cy="329.9" rx="1.1" ry="0.6" transform="rotate(36 496.0 329.9)" fill="rgb(100,100,100)"/>
<ellipse cx="495.2" cy="340.5" rx="1.2" ry="0.6" transform="rotate(36 495.2 340.5)" fill="rgb(94,94,94)"/>
<ellipse cx="496.9" cy="341.6" rx="1.4" ry="0.6" transform="rotate(36 496.9 341.6)" fill="rgb(79,79,79)"/>
<ellipse cx="488.5" cy="338.0" rx="1.0" ry="0.6" transform="rotate(36 488.5 338.0)" fill="rgb(90,90,90)"/>
<ellipse cx="494.4" cy="355.4" rx="1.0" ry="0.6" transform="rotate(36 494.4 355.4)" fill="rgb(77,77,77)"/>
<ellipse cx="487.9" cy="338.2" rx="0.9" ry="0.6" transform="rotate(36 487.9 338.2)" fill="rgb(74,74,74)"/>
<ellipse cx="480.9" cy="326.5" rx="0.8" ry="0.6" transform="rotate(36 480.9 326.5)" fill="rgb(86,86,86)"/>
<ellipse cx="493.5" cy="360.4" rx="1.1" ry="0.6" transform="rotate(36 493.5 360.4)" fill="rgb(84,84,84)"/>
<ellipse cx="463.5" cy="339.2" rx="1.4" ry="0.6" transform="rotate(36 463.5 339.2)" fill="rgb(87,87,87)"/>
<ellipse cx="493.2" cy="329.5" rx="0.9" ry="0.6" transform="rotate(36 493.2 329.5)" fill="rgb(87,87,87)"/>
<ellipse cx="482.7" cy="325.3" rx="0.9" ry="0.6" transform="rotate(36 482.7 325.3)" fill="rgb(80,80,80)"/>
<ellipse cx="503.0" cy="344.2" rx="1.0" ry="0.6" transform="rotate(36 503.0 344.2)" fill="rgb(84,84,84)"/>
<ellipse cx="483.8" cy="323.0" rx="1.0" ry="0.6" transform="rotate(36 483.8 323.0)" fill="rgb(94,94,94)"/>
<ellipse cx="488.2" cy="326.8" rx="1.4" ry="0.6" transform="rotate(36 488.2 326.8)" fill="rgb(98,98,98)"/>
<ellipse cx="471.3" cy="336.1" rx="0.8" ry="0.6" transform="rotate(36 471.3 336.1)" fill="rgb(90,90,90)"/>
<ellipse cx="481.5" cy="334.0" rx="0.8" ry="0.6" transform="rotate(36 481.5 334.0)" fill="rgb(91,91,91)"/>
<ellipse cx="483.0" cy="330.9" rx="1.3" ry="0.6" transform="rotate(36 483.0 330.9)" fill="rgb(89,89,89)"/>
<ellipse cx="471.9" cy="341.8" rx="1.3" ry="0.6" transform="rotate(36 471.9 341.8)" fill="rgb(93,93,93)"/>
<ellipse cx="481.0" cy="321.8" rx="1.0" ry="0.6" transform="rotate(36 481.0 321.8)" fill="rgb(83,83,83)"/>
<ellipse cx="494.9" cy="332.8" rx="0.8" ry="0.6" transform="rotate(36 494.9 332.8)" fill="rgb(81,81,81)"/>
<ellipse cx="479.2" cy="337.1" rx="1.2" ry="0.6" transform="rotate(36 479.2 337.1)" fill="rgb(72,72,72)"/>
<ellipse cx="492.2" cy="330.6" rx="1.4" ry="0.6" transform="rotate(36 492.2 330.6)" fill="rgb(85,85,85)"/>
<ellipse cx="510.1" cy="342.0" rx="0.8" ry="0.6" transform="rotate(36 510.1 342.0)" fill="rgb(94,94,94)"/>
<ellipse cx="477.2" cy="338.6" rx="1.3" ry="0.6" transform="rotate(36 477.2 338.6)" fill="rgb(95,95,95)"/>
<ellipse cx="482.8" cy="326.0" rx="1.5" ry="0.6" transform="rotate(36 482.8 326.0)" fill="rgb(78,78,78)"/>
<ellipse cx="485.4" cy="345.4" rx="1.3" ry="0.6" transform="rotate(36 485.4 345.4)" fill="rgb(84,84,84)"/>
<ellipse cx="485.7" cy="357.4" rx="1.3" ry="0.6" transform="rotate(36 485.7 357.4)" fill="rgb(99,99,99)"/>
<ellipse cx="489.1" cy="347.6" rx="1.3" ry="0.6" transform="rotate(36 489.1 347.6)" fill="rgb(77,77,77)"/>
<ellipse cx="495.8" cy="336.6" rx="1.3" ry="0.6" transform="rotate(36 495.8 336.6)" fill="rgb(94,94,94)"/>
<ellipse cx="504.7" cy="344.5" rx="1.4" ry="0.6" transform="rotate(36 504.7 344.5)" fill="rgb(94,94,94)"/>
<ellipse cx="477.8" cy="326.2" rx="1.4" ry="0.6" transform="rotate(36 477.8 326.2)" fill="rgb(77,77,77)"/>
<ellipse cx="489.7" cy="357.3" rx="0.8" ry="0.6" transform="rotate(36 489.7 357.3)" fill="rgb(93,93,93)"/>
<ellipse cx="501.4" cy="337.8" rx="1.0" ry="0.6" transform="rotate(36 501.4 337.8)" fill="rgb(78,78,78)"/>
<ellipse cx="494.1" cy="339.6" rx="1.4" ry="0.6" transform="rotate(36 494.1 339.6)" fill="rgb(89,89,89)"/>
<ellipse cx="494.0" cy="352.4" rx="1.4" ry="0.6" transform="rotate(36 494.0 352.4)" fill="rgb(100,100,100)"/>
<ellipse cx="475.8" cy="334.9" rx="1.0" ry="0.6" transform="rotate(36 475.8 334.9)" fill="rgb(86,86,86)"/>
<ellipse cx="476.7" cy="327.1" rx="0.8" ry="0.6" transform="rotate(36 476.7 327.1)" fill="rgb(80,80,80)"/>
<ellipse cx="470.2" cy="342.2" rx="1.3" ry="0.6" transform="rotate(36 470.2 342.2)" fill="rgb(87,87,87)"/>
<ellipse cx="496.2" cy="352.0" rx="1.5" ry="0.6" transform="rotate(36 496.2 352.0)" fill="rgb(86,86,86)"/>
<ellipse cx="476.0" cy="338.7" rx="1.3" ry="0.6" transform="rotate(36 476.0 338.7)" fill="rgb(76,76,76)"/>
<ellipse cx="502.6" cy="349.1" rx="1.3" ry="0.6" transform="rotate(36 502.6 349.1)" fill="rgb(86,86,86)"/>
<ellipse cx="493.5" cy="357.4" rx="0.9" ry="0.6" transform="rotate(36 493.5 357.4)" fill="rgb(73,73,73)"/>
<ellipse cx="484.9" cy="321.1" rx="1.5" ry="0.6" transform="rotate(36 484.9 321.1)" fill="rgb(100,100,100)"/>
<ellipse cx="472.8" cy="346.1" rx="1.5" ry="0.6" transform="rotate(36 472.8 346.1)" fill="rgb(95,95,95)"/>
<ellipse cx="500.2" cy="349.2" rx="1.3" ry="0.6" transform="rotate(36 500.2 349.2)" fill="rgb(84,84,84)"/>
<ellipse cx="481.5" cy="352.2" rx="1.3" ry="0.6" transform="rotate(36 481.5 352.2)" fill="rgb(77,77,77)"/>
<ellipse cx="464.3" cy="332.2" rx="0.9" ry="0.6" transform="rotate(36 464.3 332.2)" fill="rgb(85,85,85)"/>
<ellipse cx="469.7" cy="327.9" rx="0.9" ry="0.6" transform="rotate(36 469.7 327.9)" fill="rgb(84,84,84)"/>
<ellipse cx="486.4" cy="345.4" rx="1.1" ry="0.6" transform="rotate(36 486.4 345.4)" fill="rgb(94,94,94)"/>
<ellipse cx="477.0" cy="336.1" rx="1.3" ry="0.6" transform="rotate(36 477.0 336.1)" fill="rgb(90,90,90)"/>
<ellipse cx="466.6" cy="335.4" rx="0.9" ry="0.6" transform="rotate(36 466.6 335.4)" fill="rgb(92,92,92)"/>
<ellipse cx="493.6" cy="336.5" rx="1.0" ry="0.6" transform="rotate(36 493.6 336.5)" fill="rgb(74,74,74)"/>
<ellipse cx="505.9" cy="339.6" rx="1.5" ry="0.6" transform="rotate(36 505.9 339.6)" fill="rgb(91,91,91)"/>
<ellipse cx="505.7" cy="337.3" rx="1.1" ry="0.6" transform="rotate(36 505.7 337.3)" fill="rgb(98,98,98)"/>
<ellipse cx="488.7" cy="327.7" rx="1.5" ry="0.6" transform="rotate(36 488.7 327.7)" fill="rgb(100,100,100)"/>
<ellipse cx="507.4" cy="344.8" rx="1.2" ry="0.6" transform="rotate(36 507.4 344.8)" fill="rgb(92,92,92)"/>
<ellipse cx="469.8" cy="333.4" rx="2.5" ry="1.8" transform="rotate(30 469.8 333.4)" fill="rgb(242,242,242)" opacity="0.45"/>
<ellipse cx="469.8" cy="333.4" rx="1.7" ry="1.2" transform="rotate(30 469.8 333.4)" fill="rgb(242,242,242)"/>
<ellipse cx="473.6" cy="343.0" rx="2.2" ry="1.4" transform="rotate(30 473.6 343.0)" fill="rgb(127,127,127)" opacity="0.45"/>
<ellipse cx="473.6" cy="343.0" rx="1.5" ry="1.0" transform="rotate(30 473.6 343.0)" fill="rgb(127,127,127)"/>
<ellipse cx="487.5" cy="348.0" rx="2.2" ry="1.4" transform="rotate(30 487.5 348.0)" fill="rgb(127,127,127)" opacity="0.45"/>
<ellipse cx="487.5" cy="348.0" rx="1.5" ry="1.0" transform="rotate(30 487.5 348.0)" fill="rgb(127,127,127)"/>
</g></g>
<path d="M261.9 314.5V365.7M325 314.5V365.7M388 314.5V365.7M451.6 314.5V365.7M514.8 314.5V365.7" stroke="#4cc84c" stroke-width="1.4" fill="none"/>
<path d="M261.2 365.7H515.5" stroke="#3fae3f" stroke-width="1.2" fill="none"/>
<path d="M261.9 315.7H514.8" stroke="#2a8aa8" stroke-width="0.9" fill="none"/>
<path d="M261.9 262.6V314.5M325 262.6V314.5M388 262.6V314.5M451.6 262.6V314.5M514.8 262.6V314.5M261.09999999999997 262.6H515.5999999999999M261.09999999999997 314.5H515.5999999999999" stroke="#1636c0" stroke-width="1.8" fill="none"/>
<text x="294.4" y="376" font-size="9" font-weight="bold" text-anchor="middle" fill="#000" >T200</text>
<text x="361" y="376" font-size="9" font-weight="bold" text-anchor="middle" fill="#000" >T250</text>
<text x="422.5" y="376" font-size="9" font-weight="bold" text-anchor="middle" fill="#000" >T275</text>
<text x="483.7" y="376" font-size="9" font-weight="bold" text-anchor="middle" fill="#000" >T300</text>
<text x="390.7" y="393" font-size="11.2" font-weight="bold" text-anchor="middle" fill="#000" >Time (sec)</text>
</g>
</svg>
</body></html>
